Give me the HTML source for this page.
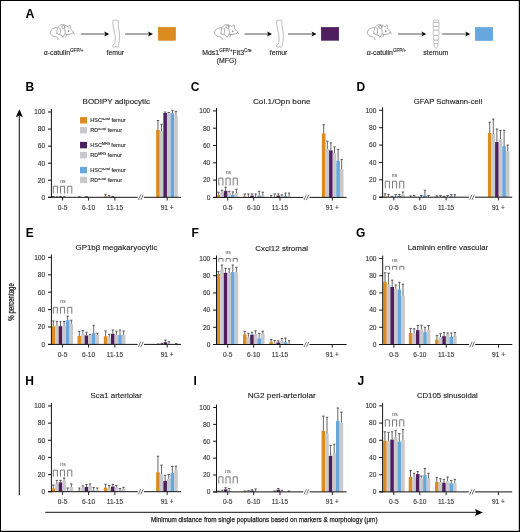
<!DOCTYPE html>
<html><head><meta charset="utf-8"><title>Figure</title>
<style>html,body{margin:0;padding:0;background:#fff;width:520px;height:532px;overflow:hidden}svg{display:block}.w{will-change:transform;width:520px;height:532px}text{font-family:"Liberation Sans",sans-serif}text.r{stroke:#2a2a2a;stroke-width:0.13px}</style>
</head><body>
<div class="w"><svg width="520" height="532" viewBox="0 0 520 532">
<rect x="0" y="0" width="520" height="532" fill="#fff"/>
<text x="25.4" y="17.7" font-size="12.4" font-weight="bold" fill="#000">A</text>
<g transform="translate(47.6,21.6)" fill="none" stroke="#6a6a6a" stroke-width="0.55" stroke-linecap="round" stroke-linejoin="round"><path d="M9.3 12C9.2 9 9.5 6 12 4C13.5 3 15 2.8 17 3.5C18.5 4 19.5 4.4 20.5 5C21 3.8 21.8 3.3 22.6 3.8C23 4.8 22.8 6 22.5 6.8C23.8 8 25 9.3 26 10.4C25.8 11.2 25 11.8 24 12.2C22.5 12.7 20.5 12.9 19.2 12.8"/><circle cx="15.8" cy="5.3" r="1.5"/><path d="M19.2 12.8C18.8 13.8 18.6 14.6 18.3 15.3M17.5 12.6C16.8 13.5 16.2 14.3 15.6 15.3"/><path d="M9.3 12C10.5 12.8 12 13.3 13.6 13.5C14.5 14 14.8 14.8 15 15.5"/><path d="M9.4 6C6.5 5.8 3.5 7.5 2.8 10.5C2.5 13 5 14.8 8 15.2C9.5 15.4 10.6 16.3 10.5 18"/><path d="M12.3 6.5C13.2 8.5 13.2 10.5 12.4 12.2M17 7C17.6 8.5 17.7 10.5 17.5 12.5"/><path d="M25.6 11L27 12.2"/></g>
<circle cx="68.7" cy="31.1" r="0.7" fill="#222"/>
<path transform="translate(112,20)" d="M1 0.5C2.5 0 5 0 6 0.3C6.3 2 6 4 6.4 7C6.9 10 7.6 13 7.6 17C7.6 20 7 23 6.3 25.5C6.4 26.3 5.8 27.3 5 27.3C4.3 27.3 4 26.8 3.8 26.3C3 27.2 1.5 27.3 0.8 26.7C0.3 26 1 25 2 24.3C2.8 23.5 3.3 22 3.3 19C3.3 16 2.5 13 1.8 9.5C1.3 6 0.5 3 1 0.5Z" fill="#fff" stroke="#888" stroke-width="0.55"/>
<line x1="80.9" y1="34" x2="105.2" y2="34" stroke="#7a7a7a" stroke-width="1.3"/>
<path d="M109.2 34L104.2 31.6L105.4 34L104.2 36.4Z" fill="#000"/>
<line x1="125.1" y1="34" x2="149" y2="34" stroke="#7a7a7a" stroke-width="1.3"/>
<path d="M153 34L148 31.6L149.2 34L148 36.4Z" fill="#000"/>
<rect x="158.2" y="27.3" width="17.4" height="13" fill="#DC8C1E" stroke="#D07E12" stroke-width="0.5"/>
<g transform="translate(211.7,21.6)" fill="none" stroke="#6a6a6a" stroke-width="0.55" stroke-linecap="round" stroke-linejoin="round"><path d="M9.3 12C9.2 9 9.5 6 12 4C13.5 3 15 2.8 17 3.5C18.5 4 19.5 4.4 20.5 5C21 3.8 21.8 3.3 22.6 3.8C23 4.8 22.8 6 22.5 6.8C23.8 8 25 9.3 26 10.4C25.8 11.2 25 11.8 24 12.2C22.5 12.7 20.5 12.9 19.2 12.8"/><circle cx="15.8" cy="5.3" r="1.5"/><path d="M19.2 12.8C18.8 13.8 18.6 14.6 18.3 15.3M17.5 12.6C16.8 13.5 16.2 14.3 15.6 15.3"/><path d="M9.3 12C10.5 12.8 12 13.3 13.6 13.5C14.5 14 14.8 14.8 15 15.5"/><path d="M9.4 6C6.5 5.8 3.5 7.5 2.8 10.5C2.5 13 5 14.8 8 15.2C9.5 15.4 10.6 16.3 10.5 18"/><path d="M12.3 6.5C13.2 8.5 13.2 10.5 12.4 12.2M17 7C17.6 8.5 17.7 10.5 17.5 12.5"/><path d="M25.6 11L27 12.2"/></g>
<circle cx="232.8" cy="31.1" r="0.7" fill="#222"/>
<line x1="244.6" y1="34" x2="268" y2="34" stroke="#7a7a7a" stroke-width="1.3"/>
<path d="M272 34L267 31.6L268.2 34L267 36.4Z" fill="#000"/>
<path transform="translate(275.8,20)" d="M1 0.5C2.5 0 5 0 6 0.3C6.3 2 6 4 6.4 7C6.9 10 7.6 13 7.6 17C7.6 20 7 23 6.3 25.5C6.4 26.3 5.8 27.3 5 27.3C4.3 27.3 4 26.8 3.8 26.3C3 27.2 1.5 27.3 0.8 26.7C0.3 26 1 25 2 24.3C2.8 23.5 3.3 22 3.3 19C3.3 16 2.5 13 1.8 9.5C1.3 6 0.5 3 1 0.5Z" fill="#fff" stroke="#888" stroke-width="0.55"/>
<line x1="288" y1="34" x2="312.5" y2="34" stroke="#7a7a7a" stroke-width="1.3"/>
<path d="M316.5 34L311.5 31.6L312.7 34L311.5 36.4Z" fill="#000"/>
<rect x="321.2" y="27.3" width="17.6" height="13" fill="#4F1E5E" stroke="#431552" stroke-width="0.5"/>
<g transform="translate(364.6,21.6)" fill="none" stroke="#6a6a6a" stroke-width="0.55" stroke-linecap="round" stroke-linejoin="round"><path d="M9.3 12C9.2 9 9.5 6 12 4C13.5 3 15 2.8 17 3.5C18.5 4 19.5 4.4 20.5 5C21 3.8 21.8 3.3 22.6 3.8C23 4.8 22.8 6 22.5 6.8C23.8 8 25 9.3 26 10.4C25.8 11.2 25 11.8 24 12.2C22.5 12.7 20.5 12.9 19.2 12.8"/><circle cx="15.8" cy="5.3" r="1.5"/><path d="M19.2 12.8C18.8 13.8 18.6 14.6 18.3 15.3M17.5 12.6C16.8 13.5 16.2 14.3 15.6 15.3"/><path d="M9.3 12C10.5 12.8 12 13.3 13.6 13.5C14.5 14 14.8 14.8 15 15.5"/><path d="M9.4 6C6.5 5.8 3.5 7.5 2.8 10.5C2.5 13 5 14.8 8 15.2C9.5 15.4 10.6 16.3 10.5 18"/><path d="M12.3 6.5C13.2 8.5 13.2 10.5 12.4 12.2M17 7C17.6 8.5 17.7 10.5 17.5 12.5"/><path d="M25.6 11L27 12.2"/></g>
<circle cx="385.7" cy="31.1" r="0.7" fill="#222"/>
<line x1="398" y1="34" x2="422.3" y2="34" stroke="#7a7a7a" stroke-width="1.3"/>
<path d="M426.3 34L421.3 31.6L422.5 34L421.3 36.4Z" fill="#000"/>
<g transform="translate(432.9,19.8)" fill="#fff" stroke="#858585" stroke-width="0.5">
<rect x="0.4" y="0.1" width="5.6" height="2.5" rx="1.2" ry="1.2"/>
<rect x="0.2" y="2.6" width="6" height="4" rx="1.2" ry="1.2"/>
<rect x="0.3" y="6.6" width="5.8" height="3.9" rx="1.2" ry="1.2"/>
<rect x="0.3" y="10.5" width="5.8" height="5.2" rx="1.4" ry="1.2"/>
<rect x="0.5" y="15.7" width="5.4" height="4.7" rx="1.4" ry="1.2"/>
<rect x="0.7" y="20.4" width="5" height="3.4" rx="1.3" ry="1.2"/>
<path d="M1.1 23.8C1 25.5 1.6 27.5 3.1 28.6C4.6 27.5 5.2 25.5 5.1 23.8Z"/>
</g>
<line x1="442.2" y1="34" x2="466.2" y2="34" stroke="#7a7a7a" stroke-width="1.3"/>
<path d="M470.2 34L465.2 31.6L466.4 34L465.2 36.4Z" fill="#000"/>
<rect x="475.2" y="27.3" width="17.6" height="13.3" fill="#66A8DE" stroke="#5a9ed6" stroke-width="0.5"/>
<text class="r" x="43.8" y="54.5" font-size="6.9" fill="#222">α-catulin<tspan font-size="4.6" dy="-2.6">GFP/+</tspan></text>
<text class="r" x="115.3" y="54.5" font-size="6.9" text-anchor="middle" fill="#222">femur</text>
<text class="r" x="202.3" y="54.5" font-size="6.9" fill="#222">Mds1<tspan font-size="4.6" dy="-2.6">GFP/+</tspan><tspan dy="2.6">Flt3</tspan><tspan font-size="4.6" dy="-2.6">Cre</tspan></text>
<text class="r" x="226.7" y="63" font-size="6.9" text-anchor="middle" fill="#222">(MFG)</text>
<text class="r" x="278.6" y="54.5" font-size="6.9" text-anchor="middle" fill="#222">femur</text>
<text class="r" x="366.7" y="54.5" font-size="6.9" fill="#222">α-catulin<tspan font-size="4.6" dy="-2.6">GFP/+</tspan></text>
<text class="r" x="435.8" y="54.5" font-size="6.9" text-anchor="middle" fill="#222">sternum</text>
<rect x="51.5" y="196.87" width="3.6" height="0.43" fill="#DC8C1E"/>
<line x1="53.3" y1="196.87" x2="53.3" y2="196.45" stroke="#4a4a4a" stroke-width="0.85"/>
<line x1="52.1" y1="196.45" x2="54.5" y2="196.45" stroke="#4a4a4a" stroke-width="0.9"/>
<line x1="56.9" y1="197.3" x2="56.9" y2="196.87" stroke="#4a4a4a" stroke-width="0.85"/>
<line x1="55.7" y1="196.87" x2="58.1" y2="196.87" stroke="#4a4a4a" stroke-width="0.9"/>
<rect x="58.7" y="196.87" width="3.6" height="0.43" fill="#4F1E5E"/>
<line x1="60.5" y1="196.87" x2="60.5" y2="196.45" stroke="#4a4a4a" stroke-width="0.85"/>
<line x1="59.3" y1="196.45" x2="61.7" y2="196.45" stroke="#4a4a4a" stroke-width="0.9"/>
<line x1="64.1" y1="197.3" x2="64.1" y2="196.87" stroke="#4a4a4a" stroke-width="0.85"/>
<line x1="62.9" y1="196.87" x2="65.3" y2="196.87" stroke="#4a4a4a" stroke-width="0.9"/>
<line x1="79.3" y1="197.3" x2="79.3" y2="196.87" stroke="#4a4a4a" stroke-width="0.85"/>
<line x1="78.1" y1="196.87" x2="80.5" y2="196.87" stroke="#4a4a4a" stroke-width="0.9"/>
<rect x="84.7" y="196.87" width="3.6" height="0.43" fill="#4F1E5E"/>
<line x1="86.5" y1="196.87" x2="86.5" y2="196.45" stroke="#4a4a4a" stroke-width="0.85"/>
<line x1="85.3" y1="196.45" x2="87.7" y2="196.45" stroke="#4a4a4a" stroke-width="0.9"/>
<rect x="103.8" y="196.45" width="3.6" height="0.85" fill="#DC8C1E"/>
<line x1="105.6" y1="196.45" x2="105.6" y2="194.31" stroke="#4a4a4a" stroke-width="0.85"/>
<line x1="104.4" y1="194.31" x2="106.8" y2="194.31" stroke="#4a4a4a" stroke-width="0.9"/>
<line x1="109.2" y1="197.3" x2="109.2" y2="195.59" stroke="#4a4a4a" stroke-width="0.85"/>
<line x1="108" y1="195.59" x2="110.4" y2="195.59" stroke="#4a4a4a" stroke-width="0.9"/>
<rect x="111" y="196.87" width="3.6" height="0.43" fill="#4F1E5E"/>
<line x1="112.8" y1="196.87" x2="112.8" y2="196.45" stroke="#4a4a4a" stroke-width="0.85"/>
<line x1="111.6" y1="196.45" x2="114" y2="196.45" stroke="#4a4a4a" stroke-width="0.9"/>
<rect x="156.15" y="129.91" width="3.6" height="67.39" fill="#DC8C1E"/>
<line x1="157.95" y1="129.91" x2="157.95" y2="120.53" stroke="#4a4a4a" stroke-width="0.85"/>
<line x1="156.75" y1="120.53" x2="159.15" y2="120.53" stroke="#4a4a4a" stroke-width="0.9"/>
<rect x="159.75" y="131.28" width="3.6" height="66.02" fill="#C9C8CD"/>
<line x1="161.55" y1="131.28" x2="161.55" y2="124.2" stroke="#4a4a4a" stroke-width="0.85"/>
<line x1="160.35" y1="124.2" x2="162.75" y2="124.2" stroke="#4a4a4a" stroke-width="0.9"/>
<rect x="163.35" y="113.02" width="3.6" height="84.28" fill="#4F1E5E"/>
<line x1="165.15" y1="113.02" x2="165.15" y2="112" stroke="#4a4a4a" stroke-width="0.85"/>
<line x1="163.95" y1="112" x2="166.35" y2="112" stroke="#4a4a4a" stroke-width="0.9"/>
<rect x="166.95" y="113.19" width="3.6" height="84.11" fill="#C9C8CD"/>
<line x1="168.75" y1="113.19" x2="168.75" y2="112.43" stroke="#4a4a4a" stroke-width="0.85"/>
<line x1="167.55" y1="112.43" x2="169.95" y2="112.43" stroke="#4a4a4a" stroke-width="0.9"/>
<rect x="170.55" y="113.19" width="3.6" height="84.11" fill="#66A8DE"/>
<line x1="172.35" y1="113.19" x2="172.35" y2="110.29" stroke="#4a4a4a" stroke-width="0.85"/>
<line x1="171.15" y1="110.29" x2="173.55" y2="110.29" stroke="#4a4a4a" stroke-width="0.9"/>
<rect x="174.15" y="115.24" width="3.6" height="82.06" fill="#C9C8CD"/>
<line x1="175.95" y1="115.24" x2="175.95" y2="111.32" stroke="#4a4a4a" stroke-width="0.85"/>
<line x1="174.75" y1="111.32" x2="177.15" y2="111.32" stroke="#4a4a4a" stroke-width="0.9"/>
<line x1="51.4" y1="109" x2="51.4" y2="197.8" stroke="#151515" stroke-width="1"/>
<line x1="48" y1="197.3" x2="51.4" y2="197.3" stroke="#1a1a1a" stroke-width="1.05"/>
<text class="r" x="45.2" y="199.65" font-size="6.6" text-anchor="end" fill="#444">0</text>
<line x1="48" y1="180.24" x2="51.4" y2="180.24" stroke="#1a1a1a" stroke-width="1.05"/>
<text class="r" x="45.2" y="182.59" font-size="6.6" text-anchor="end" fill="#444">20</text>
<line x1="48" y1="163.18" x2="51.4" y2="163.18" stroke="#1a1a1a" stroke-width="1.05"/>
<text class="r" x="45.2" y="165.53" font-size="6.6" text-anchor="end" fill="#444">40</text>
<line x1="48" y1="146.12" x2="51.4" y2="146.12" stroke="#1a1a1a" stroke-width="1.05"/>
<text class="r" x="45.2" y="148.47" font-size="6.6" text-anchor="end" fill="#444">60</text>
<line x1="48" y1="129.06" x2="51.4" y2="129.06" stroke="#1a1a1a" stroke-width="1.05"/>
<text class="r" x="45.2" y="131.41" font-size="6.6" text-anchor="end" fill="#444">80</text>
<line x1="48" y1="112" x2="51.4" y2="112" stroke="#1a1a1a" stroke-width="1.05"/>
<text class="r" x="45.2" y="114.35" font-size="6.6" text-anchor="end" fill="#444">100</text>
<line x1="48" y1="197.3" x2="137.7" y2="197.3" stroke="#151515" stroke-width="1"/>
<line x1="143.9" y1="197.3" x2="181" y2="197.3" stroke="#151515" stroke-width="1"/>
<line x1="138.4" y1="200" x2="140.8" y2="194.6" stroke="#555" stroke-width="0.8"/>
<line x1="140.8" y1="200" x2="143.2" y2="194.6" stroke="#555" stroke-width="0.8"/>
<line x1="62.6" y1="197.3" x2="62.6" y2="200.5" stroke="#222" stroke-width="1"/>
<text class="r" x="62.6" y="209.6" font-size="6.6" text-anchor="middle" fill="#444">0-5</text>
<line x1="88.6" y1="197.3" x2="88.6" y2="200.5" stroke="#222" stroke-width="1"/>
<text class="r" x="88.6" y="209.6" font-size="6.6" text-anchor="middle" fill="#444">6-10</text>
<line x1="114.9" y1="197.3" x2="114.9" y2="200.5" stroke="#222" stroke-width="1"/>
<text class="r" x="114.9" y="209.6" font-size="6.6" text-anchor="middle" fill="#444">11-15</text>
<line x1="167.2" y1="197.3" x2="167.2" y2="200.5" stroke="#222" stroke-width="1"/>
<text class="r" x="167.2" y="209.6" font-size="6.6" text-anchor="middle" fill="#444">91 +</text>
<path d="M53.3 193.5V186.2H57.4V193.5" fill="none" stroke="#7a7a7a" stroke-width="1"/>
<path d="M60.5 193.5V186.2H64.6V193.5" fill="none" stroke="#7a7a7a" stroke-width="1"/>
<path d="M67.7 193.5V186.2H71.8V193.5" fill="none" stroke="#7a7a7a" stroke-width="1"/>
<text x="62.8" y="182.5" font-size="5" text-anchor="middle" fill="#3a3a3a">ns</text>
<text class="r" x="82.6" y="103.8" font-size="8" fill="#222" textLength="67.4" lengthAdjust="spacingAndGlyphs">BODIPY adipocytic</text>
<text x="25.6" y="90.7" font-size="12" font-weight="bold" fill="#000">B</text>
<rect x="216.6" y="194.81" width="3.6" height="2.59" fill="#DC8C1E"/>
<line x1="218.4" y1="194.81" x2="218.4" y2="192.21" stroke="#4a4a4a" stroke-width="0.85"/>
<line x1="217.2" y1="192.21" x2="219.6" y2="192.21" stroke="#4a4a4a" stroke-width="0.9"/>
<rect x="220.2" y="192.82" width="3.6" height="4.58" fill="#C9C8CD"/>
<line x1="222" y1="192.82" x2="222" y2="190.22" stroke="#4a4a4a" stroke-width="0.85"/>
<line x1="220.8" y1="190.22" x2="223.2" y2="190.22" stroke="#4a4a4a" stroke-width="0.9"/>
<rect x="223.8" y="190.83" width="3.6" height="6.57" fill="#4F1E5E"/>
<line x1="225.6" y1="190.83" x2="225.6" y2="187.19" stroke="#4a4a4a" stroke-width="0.85"/>
<line x1="224.4" y1="187.19" x2="226.8" y2="187.19" stroke="#4a4a4a" stroke-width="0.9"/>
<rect x="227.4" y="192.82" width="3.6" height="4.58" fill="#C9C8CD"/>
<line x1="229.2" y1="192.82" x2="229.2" y2="191.34" stroke="#4a4a4a" stroke-width="0.85"/>
<line x1="228" y1="191.34" x2="230.4" y2="191.34" stroke="#4a4a4a" stroke-width="0.9"/>
<rect x="231" y="194.72" width="3.6" height="2.68" fill="#66A8DE"/>
<line x1="232.8" y1="194.72" x2="232.8" y2="191.86" stroke="#4a4a4a" stroke-width="0.85"/>
<line x1="231.6" y1="191.86" x2="234" y2="191.86" stroke="#4a4a4a" stroke-width="0.9"/>
<rect x="234.6" y="193.08" width="3.6" height="4.33" fill="#C9C8CD"/>
<line x1="236.4" y1="193.08" x2="236.4" y2="189.27" stroke="#4a4a4a" stroke-width="0.85"/>
<line x1="235.2" y1="189.27" x2="237.6" y2="189.27" stroke="#4a4a4a" stroke-width="0.9"/>
<rect x="243" y="196.53" width="3.6" height="0.86" fill="#DC8C1E"/>
<line x1="244.8" y1="196.53" x2="244.8" y2="193.94" stroke="#4a4a4a" stroke-width="0.85"/>
<line x1="243.6" y1="193.94" x2="246" y2="193.94" stroke="#4a4a4a" stroke-width="0.9"/>
<rect x="246.6" y="196.97" width="3.6" height="0.43" fill="#C9C8CD"/>
<line x1="248.4" y1="196.97" x2="248.4" y2="193.94" stroke="#4a4a4a" stroke-width="0.85"/>
<line x1="247.2" y1="193.94" x2="249.6" y2="193.94" stroke="#4a4a4a" stroke-width="0.9"/>
<rect x="250.2" y="195.67" width="3.6" height="1.73" fill="#4F1E5E"/>
<line x1="252" y1="195.67" x2="252" y2="193.94" stroke="#4a4a4a" stroke-width="0.85"/>
<line x1="250.8" y1="193.94" x2="253.2" y2="193.94" stroke="#4a4a4a" stroke-width="0.9"/>
<rect x="253.8" y="196.97" width="3.6" height="0.43" fill="#C9C8CD"/>
<line x1="255.6" y1="196.97" x2="255.6" y2="193.94" stroke="#4a4a4a" stroke-width="0.85"/>
<line x1="254.4" y1="193.94" x2="256.8" y2="193.94" stroke="#4a4a4a" stroke-width="0.9"/>
<rect x="257.4" y="195.67" width="3.6" height="1.73" fill="#66A8DE"/>
<line x1="259.2" y1="195.67" x2="259.2" y2="191.34" stroke="#4a4a4a" stroke-width="0.85"/>
<line x1="258" y1="191.34" x2="260.4" y2="191.34" stroke="#4a4a4a" stroke-width="0.9"/>
<rect x="261" y="195.24" width="3.6" height="2.16" fill="#C9C8CD"/>
<line x1="262.8" y1="195.24" x2="262.8" y2="192.21" stroke="#4a4a4a" stroke-width="0.85"/>
<line x1="261.6" y1="192.21" x2="264" y2="192.21" stroke="#4a4a4a" stroke-width="0.9"/>
<rect x="269.3" y="196.97" width="3.6" height="0.43" fill="#DC8C1E"/>
<line x1="271.1" y1="196.97" x2="271.1" y2="195.67" stroke="#4a4a4a" stroke-width="0.85"/>
<line x1="269.9" y1="195.67" x2="272.3" y2="195.67" stroke="#4a4a4a" stroke-width="0.9"/>
<rect x="272.9" y="196.97" width="3.6" height="0.43" fill="#C9C8CD"/>
<line x1="274.7" y1="196.97" x2="274.7" y2="193.94" stroke="#4a4a4a" stroke-width="0.85"/>
<line x1="273.5" y1="193.94" x2="275.9" y2="193.94" stroke="#4a4a4a" stroke-width="0.9"/>
<rect x="276.5" y="195.67" width="3.6" height="1.73" fill="#4F1E5E"/>
<line x1="278.3" y1="195.67" x2="278.3" y2="193.94" stroke="#4a4a4a" stroke-width="0.85"/>
<line x1="277.1" y1="193.94" x2="279.5" y2="193.94" stroke="#4a4a4a" stroke-width="0.9"/>
<rect x="280.1" y="196.97" width="3.6" height="0.43" fill="#C9C8CD"/>
<line x1="281.9" y1="196.97" x2="281.9" y2="194.81" stroke="#4a4a4a" stroke-width="0.85"/>
<line x1="280.7" y1="194.81" x2="283.1" y2="194.81" stroke="#4a4a4a" stroke-width="0.9"/>
<rect x="283.7" y="196.1" width="3.6" height="1.3" fill="#66A8DE"/>
<line x1="285.5" y1="196.1" x2="285.5" y2="193.08" stroke="#4a4a4a" stroke-width="0.85"/>
<line x1="284.3" y1="193.08" x2="286.7" y2="193.08" stroke="#4a4a4a" stroke-width="0.9"/>
<rect x="287.3" y="196.1" width="3.6" height="1.3" fill="#C9C8CD"/>
<line x1="289.1" y1="196.1" x2="289.1" y2="193.08" stroke="#4a4a4a" stroke-width="0.85"/>
<line x1="287.9" y1="193.08" x2="290.3" y2="193.08" stroke="#4a4a4a" stroke-width="0.9"/>
<rect x="321.9" y="133.3" width="3.6" height="64.1" fill="#DC8C1E"/>
<line x1="323.7" y1="133.3" x2="323.7" y2="124.74" stroke="#4a4a4a" stroke-width="0.85"/>
<line x1="322.5" y1="124.74" x2="324.9" y2="124.74" stroke="#4a4a4a" stroke-width="0.9"/>
<rect x="325.5" y="148.96" width="3.6" height="48.44" fill="#C9C8CD"/>
<line x1="327.3" y1="148.96" x2="327.3" y2="141.18" stroke="#4a4a4a" stroke-width="0.85"/>
<line x1="326.1" y1="141.18" x2="328.5" y2="141.18" stroke="#4a4a4a" stroke-width="0.9"/>
<rect x="329.1" y="150.43" width="3.6" height="46.97" fill="#4F1E5E"/>
<line x1="330.9" y1="150.43" x2="330.9" y2="142.91" stroke="#4a4a4a" stroke-width="0.85"/>
<line x1="329.7" y1="142.91" x2="332.1" y2="142.91" stroke="#4a4a4a" stroke-width="0.9"/>
<rect x="332.7" y="152.77" width="3.6" height="44.63" fill="#C9C8CD"/>
<line x1="334.5" y1="152.77" x2="334.5" y2="146.88" stroke="#4a4a4a" stroke-width="0.85"/>
<line x1="333.3" y1="146.88" x2="335.7" y2="146.88" stroke="#4a4a4a" stroke-width="0.9"/>
<rect x="336.3" y="160.81" width="3.6" height="36.59" fill="#66A8DE"/>
<line x1="338.1" y1="160.81" x2="338.1" y2="149.31" stroke="#4a4a4a" stroke-width="0.85"/>
<line x1="336.9" y1="149.31" x2="339.3" y2="149.31" stroke="#4a4a4a" stroke-width="0.9"/>
<rect x="339.9" y="169.2" width="3.6" height="28.2" fill="#C9C8CD"/>
<line x1="341.7" y1="169.2" x2="341.7" y2="159.34" stroke="#4a4a4a" stroke-width="0.85"/>
<line x1="340.5" y1="159.34" x2="342.9" y2="159.34" stroke="#4a4a4a" stroke-width="0.9"/>
<line x1="216.5" y1="107.9" x2="216.5" y2="197.9" stroke="#151515" stroke-width="1"/>
<line x1="213.1" y1="197.4" x2="216.5" y2="197.4" stroke="#1a1a1a" stroke-width="1.05"/>
<text class="r" x="210.3" y="199.75" font-size="6.6" text-anchor="end" fill="#444">0</text>
<line x1="213.1" y1="180.1" x2="216.5" y2="180.1" stroke="#1a1a1a" stroke-width="1.05"/>
<text class="r" x="210.3" y="182.45" font-size="6.6" text-anchor="end" fill="#444">20</text>
<line x1="213.1" y1="162.8" x2="216.5" y2="162.8" stroke="#1a1a1a" stroke-width="1.05"/>
<text class="r" x="210.3" y="165.15" font-size="6.6" text-anchor="end" fill="#444">40</text>
<line x1="213.1" y1="145.5" x2="216.5" y2="145.5" stroke="#1a1a1a" stroke-width="1.05"/>
<text class="r" x="210.3" y="147.85" font-size="6.6" text-anchor="end" fill="#444">60</text>
<line x1="213.1" y1="128.2" x2="216.5" y2="128.2" stroke="#1a1a1a" stroke-width="1.05"/>
<text class="r" x="210.3" y="130.55" font-size="6.6" text-anchor="end" fill="#444">80</text>
<line x1="213.1" y1="110.9" x2="216.5" y2="110.9" stroke="#1a1a1a" stroke-width="1.05"/>
<text class="r" x="210.3" y="113.25" font-size="6.6" text-anchor="end" fill="#444">100</text>
<line x1="213.1" y1="197.4" x2="303.3" y2="197.4" stroke="#151515" stroke-width="1"/>
<line x1="309.5" y1="197.4" x2="346.6" y2="197.4" stroke="#151515" stroke-width="1"/>
<line x1="304" y1="200.1" x2="306.4" y2="194.7" stroke="#555" stroke-width="0.8"/>
<line x1="306.4" y1="200.1" x2="308.8" y2="194.7" stroke="#555" stroke-width="0.8"/>
<line x1="227.7" y1="197.4" x2="227.7" y2="200.6" stroke="#222" stroke-width="1"/>
<text class="r" x="227.7" y="209.7" font-size="6.6" text-anchor="middle" fill="#444">0-5</text>
<line x1="253.7" y1="197.4" x2="253.7" y2="200.6" stroke="#222" stroke-width="1"/>
<text class="r" x="253.7" y="209.7" font-size="6.6" text-anchor="middle" fill="#444">6-10</text>
<line x1="280" y1="197.4" x2="280" y2="200.6" stroke="#222" stroke-width="1"/>
<text class="r" x="280" y="209.7" font-size="6.6" text-anchor="middle" fill="#444">11-15</text>
<line x1="332.3" y1="197.4" x2="332.3" y2="200.6" stroke="#222" stroke-width="1"/>
<text class="r" x="332.3" y="209.7" font-size="6.6" text-anchor="middle" fill="#444">91 +</text>
<path d="M218.8 185.5V178.1H222.9V185.5" fill="none" stroke="#7a7a7a" stroke-width="1"/>
<path d="M226 185.5V178.1H230.1V185.5" fill="none" stroke="#7a7a7a" stroke-width="1"/>
<path d="M233.2 185.5V178.1H237.3V185.5" fill="none" stroke="#7a7a7a" stroke-width="1"/>
<text x="228.4" y="174.3" font-size="5" text-anchor="middle" fill="#3a3a3a">ns</text>
<text class="r" x="252.9" y="103.6" font-size="8" fill="#222" textLength="57.8" lengthAdjust="spacingAndGlyphs">Col.1/Opn bone</text>
<text x="190.8" y="90.7" font-size="12" font-weight="bold" fill="#000">C</text>
<rect x="383.1" y="196.33" width="3.6" height="0.87" fill="#DC8C1E"/>
<line x1="384.9" y1="196.33" x2="384.9" y2="193.72" stroke="#4a4a4a" stroke-width="0.85"/>
<line x1="383.7" y1="193.72" x2="386.1" y2="193.72" stroke="#4a4a4a" stroke-width="0.9"/>
<line x1="388.5" y1="197.2" x2="388.5" y2="194.59" stroke="#4a4a4a" stroke-width="0.85"/>
<line x1="387.3" y1="194.59" x2="389.7" y2="194.59" stroke="#4a4a4a" stroke-width="0.9"/>
<line x1="392.1" y1="197.2" x2="392.1" y2="196.33" stroke="#4a4a4a" stroke-width="0.85"/>
<line x1="390.9" y1="196.33" x2="393.3" y2="196.33" stroke="#4a4a4a" stroke-width="0.9"/>
<line x1="395.7" y1="197.2" x2="395.7" y2="194.59" stroke="#4a4a4a" stroke-width="0.85"/>
<line x1="394.5" y1="194.59" x2="396.9" y2="194.59" stroke="#4a4a4a" stroke-width="0.9"/>
<rect x="397.5" y="195.9" width="3.6" height="1.3" fill="#66A8DE"/>
<line x1="399.3" y1="195.9" x2="399.3" y2="194.59" stroke="#4a4a4a" stroke-width="0.85"/>
<line x1="398.1" y1="194.59" x2="400.5" y2="194.59" stroke="#4a4a4a" stroke-width="0.9"/>
<rect x="401.1" y="194.59" width="3.6" height="2.61" fill="#C9C8CD"/>
<line x1="402.9" y1="194.59" x2="402.9" y2="191.99" stroke="#4a4a4a" stroke-width="0.85"/>
<line x1="401.7" y1="191.99" x2="404.1" y2="191.99" stroke="#4a4a4a" stroke-width="0.9"/>
<line x1="410.5" y1="197.2" x2="410.5" y2="195.9" stroke="#4a4a4a" stroke-width="0.85"/>
<line x1="409.3" y1="195.9" x2="411.7" y2="195.9" stroke="#4a4a4a" stroke-width="0.9"/>
<line x1="414.1" y1="197.2" x2="414.1" y2="195.46" stroke="#4a4a4a" stroke-width="0.85"/>
<line x1="412.9" y1="195.46" x2="415.3" y2="195.46" stroke="#4a4a4a" stroke-width="0.9"/>
<line x1="421.3" y1="197.2" x2="421.3" y2="195.46" stroke="#4a4a4a" stroke-width="0.85"/>
<line x1="420.1" y1="195.46" x2="422.5" y2="195.46" stroke="#4a4a4a" stroke-width="0.9"/>
<rect x="423.1" y="195.46" width="3.6" height="1.74" fill="#66A8DE"/>
<line x1="424.9" y1="195.46" x2="424.9" y2="190.25" stroke="#4a4a4a" stroke-width="0.85"/>
<line x1="423.7" y1="190.25" x2="426.1" y2="190.25" stroke="#4a4a4a" stroke-width="0.9"/>
<line x1="428.5" y1="197.2" x2="428.5" y2="195.46" stroke="#4a4a4a" stroke-width="0.85"/>
<line x1="427.3" y1="195.46" x2="429.7" y2="195.46" stroke="#4a4a4a" stroke-width="0.9"/>
<rect x="435" y="196.77" width="3.6" height="0.43" fill="#DC8C1E"/>
<line x1="436.8" y1="196.77" x2="436.8" y2="195.9" stroke="#4a4a4a" stroke-width="0.85"/>
<line x1="435.6" y1="195.9" x2="438" y2="195.9" stroke="#4a4a4a" stroke-width="0.9"/>
<line x1="440.4" y1="197.2" x2="440.4" y2="195.46" stroke="#4a4a4a" stroke-width="0.85"/>
<line x1="439.2" y1="195.46" x2="441.6" y2="195.46" stroke="#4a4a4a" stroke-width="0.9"/>
<line x1="444" y1="197.2" x2="444" y2="196.33" stroke="#4a4a4a" stroke-width="0.85"/>
<line x1="442.8" y1="196.33" x2="445.2" y2="196.33" stroke="#4a4a4a" stroke-width="0.9"/>
<line x1="447.6" y1="197.2" x2="447.6" y2="195.46" stroke="#4a4a4a" stroke-width="0.85"/>
<line x1="446.4" y1="195.46" x2="448.8" y2="195.46" stroke="#4a4a4a" stroke-width="0.9"/>
<rect x="449.4" y="196.33" width="3.6" height="0.87" fill="#66A8DE"/>
<line x1="451.2" y1="196.33" x2="451.2" y2="194.59" stroke="#4a4a4a" stroke-width="0.85"/>
<line x1="450" y1="194.59" x2="452.4" y2="194.59" stroke="#4a4a4a" stroke-width="0.9"/>
<line x1="454.8" y1="197.2" x2="454.8" y2="194.59" stroke="#4a4a4a" stroke-width="0.85"/>
<line x1="453.6" y1="194.59" x2="456" y2="194.59" stroke="#4a4a4a" stroke-width="0.9"/>
<rect x="487.9" y="132.89" width="3.6" height="64.31" fill="#DC8C1E"/>
<line x1="489.7" y1="132.89" x2="489.7" y2="122.21" stroke="#4a4a4a" stroke-width="0.85"/>
<line x1="488.5" y1="122.21" x2="490.9" y2="122.21" stroke="#4a4a4a" stroke-width="0.9"/>
<rect x="491.5" y="134.11" width="3.6" height="63.09" fill="#C9C8CD"/>
<line x1="493.3" y1="134.11" x2="493.3" y2="118.99" stroke="#4a4a4a" stroke-width="0.85"/>
<line x1="492.1" y1="118.99" x2="494.5" y2="118.99" stroke="#4a4a4a" stroke-width="0.9"/>
<rect x="495.1" y="142.11" width="3.6" height="55.09" fill="#4F1E5E"/>
<line x1="496.9" y1="142.11" x2="496.9" y2="128.98" stroke="#4a4a4a" stroke-width="0.85"/>
<line x1="495.7" y1="128.98" x2="498.1" y2="128.98" stroke="#4a4a4a" stroke-width="0.9"/>
<rect x="498.7" y="138.98" width="3.6" height="58.22" fill="#C9C8CD"/>
<line x1="500.5" y1="138.98" x2="500.5" y2="130.29" stroke="#4a4a4a" stroke-width="0.85"/>
<line x1="499.3" y1="130.29" x2="501.7" y2="130.29" stroke="#4a4a4a" stroke-width="0.9"/>
<rect x="502.3" y="146.1" width="3.6" height="51.1" fill="#66A8DE"/>
<line x1="504.1" y1="146.1" x2="504.1" y2="130.29" stroke="#4a4a4a" stroke-width="0.85"/>
<line x1="502.9" y1="130.29" x2="505.3" y2="130.29" stroke="#4a4a4a" stroke-width="0.9"/>
<rect x="505.9" y="151.4" width="3.6" height="45.8" fill="#C9C8CD"/>
<line x1="507.7" y1="151.4" x2="507.7" y2="145.06" stroke="#4a4a4a" stroke-width="0.85"/>
<line x1="506.5" y1="145.06" x2="508.9" y2="145.06" stroke="#4a4a4a" stroke-width="0.9"/>
<line x1="382.6" y1="107.3" x2="382.6" y2="197.7" stroke="#151515" stroke-width="1"/>
<line x1="379.2" y1="197.2" x2="382.6" y2="197.2" stroke="#1a1a1a" stroke-width="1.05"/>
<text class="r" x="376.4" y="199.55" font-size="6.6" text-anchor="end" fill="#444">0</text>
<line x1="379.2" y1="179.82" x2="382.6" y2="179.82" stroke="#1a1a1a" stroke-width="1.05"/>
<text class="r" x="376.4" y="182.17" font-size="6.6" text-anchor="end" fill="#444">20</text>
<line x1="379.2" y1="162.44" x2="382.6" y2="162.44" stroke="#1a1a1a" stroke-width="1.05"/>
<text class="r" x="376.4" y="164.79" font-size="6.6" text-anchor="end" fill="#444">40</text>
<line x1="379.2" y1="145.06" x2="382.6" y2="145.06" stroke="#1a1a1a" stroke-width="1.05"/>
<text class="r" x="376.4" y="147.41" font-size="6.6" text-anchor="end" fill="#444">60</text>
<line x1="379.2" y1="127.68" x2="382.6" y2="127.68" stroke="#1a1a1a" stroke-width="1.05"/>
<text class="r" x="376.4" y="130.03" font-size="6.6" text-anchor="end" fill="#444">80</text>
<line x1="379.2" y1="110.3" x2="382.6" y2="110.3" stroke="#1a1a1a" stroke-width="1.05"/>
<text class="r" x="376.4" y="112.65" font-size="6.6" text-anchor="end" fill="#444">100</text>
<line x1="379.2" y1="197.2" x2="468.9" y2="197.2" stroke="#151515" stroke-width="1"/>
<line x1="475.1" y1="197.2" x2="512.2" y2="197.2" stroke="#151515" stroke-width="1"/>
<line x1="469.6" y1="199.9" x2="472" y2="194.5" stroke="#555" stroke-width="0.8"/>
<line x1="472" y1="199.9" x2="474.4" y2="194.5" stroke="#555" stroke-width="0.8"/>
<line x1="393.8" y1="197.2" x2="393.8" y2="200.4" stroke="#222" stroke-width="1"/>
<text class="r" x="393.8" y="209.5" font-size="6.6" text-anchor="middle" fill="#444">0-5</text>
<line x1="419.8" y1="197.2" x2="419.8" y2="200.4" stroke="#222" stroke-width="1"/>
<text class="r" x="419.8" y="209.5" font-size="6.6" text-anchor="middle" fill="#444">6-10</text>
<line x1="446.1" y1="197.2" x2="446.1" y2="200.4" stroke="#222" stroke-width="1"/>
<text class="r" x="446.1" y="209.5" font-size="6.6" text-anchor="middle" fill="#444">11-15</text>
<line x1="498.4" y1="197.2" x2="498.4" y2="200.4" stroke="#222" stroke-width="1"/>
<text class="r" x="498.4" y="209.5" font-size="6.6" text-anchor="middle" fill="#444">91 +</text>
<path d="M385.3 188.4V181.2H389.4V188.4" fill="none" stroke="#7a7a7a" stroke-width="1"/>
<path d="M392.5 188.4V181.2H396.6V188.4" fill="none" stroke="#7a7a7a" stroke-width="1"/>
<path d="M399.7 188.4V181.2H403.8V188.4" fill="none" stroke="#7a7a7a" stroke-width="1"/>
<text x="394.5" y="177.3" font-size="5" text-anchor="middle" fill="#3a3a3a">ns</text>
<text class="r" x="413.8" y="104" font-size="8" fill="#222" textLength="68.4" lengthAdjust="spacingAndGlyphs">GFAP Schwann-cell</text>
<text x="356.4" y="90.9" font-size="12" font-weight="bold" fill="#000">D</text>
<rect x="51.5" y="326.22" width="3.6" height="18.18" fill="#DC8C1E"/>
<line x1="53.3" y1="326.22" x2="53.3" y2="320.91" stroke="#4a4a4a" stroke-width="0.85"/>
<line x1="52.1" y1="320.91" x2="54.5" y2="320.91" stroke="#4a4a4a" stroke-width="0.9"/>
<rect x="55.1" y="325.78" width="3.6" height="18.62" fill="#C9C8CD"/>
<line x1="56.9" y1="325.78" x2="56.9" y2="321.34" stroke="#4a4a4a" stroke-width="0.85"/>
<line x1="55.7" y1="321.34" x2="58.1" y2="321.34" stroke="#4a4a4a" stroke-width="0.9"/>
<rect x="58.7" y="326.13" width="3.6" height="18.27" fill="#4F1E5E"/>
<line x1="60.5" y1="326.13" x2="60.5" y2="321.78" stroke="#4a4a4a" stroke-width="0.85"/>
<line x1="59.3" y1="321.78" x2="61.7" y2="321.78" stroke="#4a4a4a" stroke-width="0.9"/>
<rect x="62.3" y="325.61" width="3.6" height="18.79" fill="#C9C8CD"/>
<line x1="64.1" y1="325.61" x2="64.1" y2="321.52" stroke="#4a4a4a" stroke-width="0.85"/>
<line x1="62.9" y1="321.52" x2="65.3" y2="321.52" stroke="#4a4a4a" stroke-width="0.9"/>
<rect x="65.9" y="320.21" width="3.6" height="24.19" fill="#66A8DE"/>
<line x1="67.7" y1="320.21" x2="67.7" y2="316.21" stroke="#4a4a4a" stroke-width="0.85"/>
<line x1="66.5" y1="316.21" x2="68.9" y2="316.21" stroke="#4a4a4a" stroke-width="0.9"/>
<rect x="69.5" y="324.04" width="3.6" height="20.36" fill="#C9C8CD"/>
<line x1="71.3" y1="324.04" x2="71.3" y2="320.21" stroke="#4a4a4a" stroke-width="0.85"/>
<line x1="70.1" y1="320.21" x2="72.5" y2="320.21" stroke="#4a4a4a" stroke-width="0.9"/>
<rect x="77.5" y="335.96" width="3.6" height="8.44" fill="#DC8C1E"/>
<line x1="79.3" y1="335.96" x2="79.3" y2="331.35" stroke="#4a4a4a" stroke-width="0.85"/>
<line x1="78.1" y1="331.35" x2="80.5" y2="331.35" stroke="#4a4a4a" stroke-width="0.9"/>
<rect x="81.1" y="333.7" width="3.6" height="10.7" fill="#C9C8CD"/>
<line x1="82.9" y1="333.7" x2="82.9" y2="330.48" stroke="#4a4a4a" stroke-width="0.85"/>
<line x1="81.7" y1="330.48" x2="84.1" y2="330.48" stroke="#4a4a4a" stroke-width="0.9"/>
<rect x="84.7" y="335.44" width="3.6" height="8.96" fill="#4F1E5E"/>
<line x1="86.5" y1="335.44" x2="86.5" y2="332.22" stroke="#4a4a4a" stroke-width="0.85"/>
<line x1="85.3" y1="332.22" x2="87.7" y2="332.22" stroke="#4a4a4a" stroke-width="0.9"/>
<rect x="88.3" y="335.09" width="3.6" height="9.31" fill="#C9C8CD"/>
<line x1="90.1" y1="335.09" x2="90.1" y2="334.31" stroke="#4a4a4a" stroke-width="0.85"/>
<line x1="88.9" y1="334.31" x2="91.3" y2="334.31" stroke="#4a4a4a" stroke-width="0.9"/>
<rect x="91.9" y="333.09" width="3.6" height="11.31" fill="#66A8DE"/>
<line x1="93.7" y1="333.09" x2="93.7" y2="325.26" stroke="#4a4a4a" stroke-width="0.85"/>
<line x1="92.5" y1="325.26" x2="94.9" y2="325.26" stroke="#4a4a4a" stroke-width="0.9"/>
<rect x="95.5" y="335.09" width="3.6" height="9.31" fill="#C9C8CD"/>
<line x1="97.3" y1="335.09" x2="97.3" y2="333.26" stroke="#4a4a4a" stroke-width="0.85"/>
<line x1="96.1" y1="333.26" x2="98.5" y2="333.26" stroke="#4a4a4a" stroke-width="0.9"/>
<rect x="103.8" y="336.22" width="3.6" height="8.18" fill="#DC8C1E"/>
<line x1="105.6" y1="336.22" x2="105.6" y2="330.83" stroke="#4a4a4a" stroke-width="0.85"/>
<line x1="104.4" y1="330.83" x2="106.8" y2="330.83" stroke="#4a4a4a" stroke-width="0.9"/>
<rect x="107.4" y="336.57" width="3.6" height="7.83" fill="#C9C8CD"/>
<line x1="109.2" y1="336.57" x2="109.2" y2="334.31" stroke="#4a4a4a" stroke-width="0.85"/>
<line x1="108" y1="334.31" x2="110.4" y2="334.31" stroke="#4a4a4a" stroke-width="0.9"/>
<rect x="111" y="333.79" width="3.6" height="10.61" fill="#4F1E5E"/>
<line x1="112.8" y1="333.79" x2="112.8" y2="329.96" stroke="#4a4a4a" stroke-width="0.85"/>
<line x1="111.6" y1="329.96" x2="114" y2="329.96" stroke="#4a4a4a" stroke-width="0.9"/>
<rect x="114.6" y="334.92" width="3.6" height="9.48" fill="#C9C8CD"/>
<line x1="116.4" y1="334.92" x2="116.4" y2="331.18" stroke="#4a4a4a" stroke-width="0.85"/>
<line x1="115.2" y1="331.18" x2="117.6" y2="331.18" stroke="#4a4a4a" stroke-width="0.9"/>
<rect x="118.2" y="334.92" width="3.6" height="9.48" fill="#66A8DE"/>
<line x1="120" y1="334.92" x2="120" y2="329.96" stroke="#4a4a4a" stroke-width="0.85"/>
<line x1="118.8" y1="329.96" x2="121.2" y2="329.96" stroke="#4a4a4a" stroke-width="0.9"/>
<rect x="121.8" y="334.66" width="3.6" height="9.74" fill="#C9C8CD"/>
<line x1="123.6" y1="334.66" x2="123.6" y2="331" stroke="#4a4a4a" stroke-width="0.85"/>
<line x1="122.4" y1="331" x2="124.8" y2="331" stroke="#4a4a4a" stroke-width="0.9"/>
<line x1="158.2" y1="344.4" x2="158.2" y2="343.96" stroke="#4a4a4a" stroke-width="0.85"/>
<line x1="157" y1="343.96" x2="159.4" y2="343.96" stroke="#4a4a4a" stroke-width="0.9"/>
<line x1="161.8" y1="344.4" x2="161.8" y2="343.53" stroke="#4a4a4a" stroke-width="0.85"/>
<line x1="160.6" y1="343.53" x2="163" y2="343.53" stroke="#4a4a4a" stroke-width="0.9"/>
<rect x="163.6" y="342.22" width="3.6" height="2.17" fill="#4F1E5E"/>
<line x1="165.4" y1="342.22" x2="165.4" y2="340.05" stroke="#4a4a4a" stroke-width="0.85"/>
<line x1="164.2" y1="340.05" x2="166.6" y2="340.05" stroke="#4a4a4a" stroke-width="0.9"/>
<rect x="167.2" y="343.53" width="3.6" height="0.87" fill="#C9C8CD"/>
<line x1="169" y1="343.53" x2="169" y2="341.79" stroke="#4a4a4a" stroke-width="0.85"/>
<line x1="167.8" y1="341.79" x2="170.2" y2="341.79" stroke="#4a4a4a" stroke-width="0.9"/>
<rect x="174.4" y="343.96" width="3.6" height="0.43" fill="#C9C8CD"/>
<line x1="176.2" y1="343.96" x2="176.2" y2="343.53" stroke="#4a4a4a" stroke-width="0.85"/>
<line x1="175" y1="343.53" x2="177.4" y2="343.53" stroke="#4a4a4a" stroke-width="0.9"/>
<line x1="51.4" y1="254.4" x2="51.4" y2="344.9" stroke="#151515" stroke-width="1"/>
<line x1="48" y1="344.4" x2="51.4" y2="344.4" stroke="#1a1a1a" stroke-width="1.05"/>
<text class="r" x="45.2" y="346.75" font-size="6.6" text-anchor="end" fill="#444">0</text>
<line x1="48" y1="327" x2="51.4" y2="327" stroke="#1a1a1a" stroke-width="1.05"/>
<text class="r" x="45.2" y="329.35" font-size="6.6" text-anchor="end" fill="#444">20</text>
<line x1="48" y1="309.6" x2="51.4" y2="309.6" stroke="#1a1a1a" stroke-width="1.05"/>
<text class="r" x="45.2" y="311.95" font-size="6.6" text-anchor="end" fill="#444">40</text>
<line x1="48" y1="292.2" x2="51.4" y2="292.2" stroke="#1a1a1a" stroke-width="1.05"/>
<text class="r" x="45.2" y="294.55" font-size="6.6" text-anchor="end" fill="#444">60</text>
<line x1="48" y1="274.8" x2="51.4" y2="274.8" stroke="#1a1a1a" stroke-width="1.05"/>
<text class="r" x="45.2" y="277.15" font-size="6.6" text-anchor="end" fill="#444">80</text>
<line x1="48" y1="257.4" x2="51.4" y2="257.4" stroke="#1a1a1a" stroke-width="1.05"/>
<text class="r" x="45.2" y="259.75" font-size="6.6" text-anchor="end" fill="#444">100</text>
<line x1="48" y1="344.4" x2="137.7" y2="344.4" stroke="#151515" stroke-width="1"/>
<line x1="143.9" y1="344.4" x2="181" y2="344.4" stroke="#151515" stroke-width="1"/>
<line x1="138.4" y1="347.1" x2="140.8" y2="341.7" stroke="#555" stroke-width="0.8"/>
<line x1="140.8" y1="347.1" x2="143.2" y2="341.7" stroke="#555" stroke-width="0.8"/>
<line x1="62.6" y1="344.4" x2="62.6" y2="347.6" stroke="#222" stroke-width="1"/>
<text class="r" x="62.6" y="356.7" font-size="6.6" text-anchor="middle" fill="#444">0-5</text>
<line x1="88.6" y1="344.4" x2="88.6" y2="347.6" stroke="#222" stroke-width="1"/>
<text class="r" x="88.6" y="356.7" font-size="6.6" text-anchor="middle" fill="#444">6-10</text>
<line x1="114.9" y1="344.4" x2="114.9" y2="347.6" stroke="#222" stroke-width="1"/>
<text class="r" x="114.9" y="356.7" font-size="6.6" text-anchor="middle" fill="#444">11-15</text>
<line x1="167.2" y1="344.4" x2="167.2" y2="347.6" stroke="#222" stroke-width="1"/>
<text class="r" x="167.2" y="356.7" font-size="6.6" text-anchor="middle" fill="#444">91 +</text>
<path d="M53.3 313.7V307.3H57.4V313.7" fill="none" stroke="#7a7a7a" stroke-width="1"/>
<path d="M60.5 313.7V307.3H64.6V313.7" fill="none" stroke="#7a7a7a" stroke-width="1"/>
<path d="M67.7 313.7V307.3H71.8V313.7" fill="none" stroke="#7a7a7a" stroke-width="1"/>
<text x="63" y="302.8" font-size="5" text-anchor="middle" fill="#3a3a3a">ns</text>
<text class="r" x="75.5" y="250.4" font-size="8" fill="#222" textLength="81.9" lengthAdjust="spacingAndGlyphs">GP1bβ megakaryocytic</text>
<text x="25.8" y="237.4" font-size="12" font-weight="bold" fill="#000">E</text>
<rect x="216.6" y="273.98" width="3.6" height="70.52" fill="#DC8C1E"/>
<line x1="218.4" y1="273.98" x2="218.4" y2="271.4" stroke="#4a4a4a" stroke-width="0.85"/>
<line x1="217.2" y1="271.4" x2="219.6" y2="271.4" stroke="#4a4a4a" stroke-width="0.9"/>
<rect x="220.2" y="270.02" width="3.6" height="74.48" fill="#C9C8CD"/>
<line x1="222" y1="270.02" x2="222" y2="265.04" stroke="#4a4a4a" stroke-width="0.85"/>
<line x1="220.8" y1="265.04" x2="223.2" y2="265.04" stroke="#4a4a4a" stroke-width="0.9"/>
<rect x="223.8" y="272.86" width="3.6" height="71.64" fill="#4F1E5E"/>
<line x1="225.6" y1="272.86" x2="225.6" y2="268.3" stroke="#4a4a4a" stroke-width="0.85"/>
<line x1="224.4" y1="268.3" x2="226.8" y2="268.3" stroke="#4a4a4a" stroke-width="0.9"/>
<rect x="227.4" y="273.55" width="3.6" height="70.95" fill="#C9C8CD"/>
<line x1="229.2" y1="273.55" x2="229.2" y2="268.82" stroke="#4a4a4a" stroke-width="0.85"/>
<line x1="228" y1="268.82" x2="230.4" y2="268.82" stroke="#4a4a4a" stroke-width="0.9"/>
<rect x="231" y="272.09" width="3.6" height="72.41" fill="#66A8DE"/>
<line x1="232.8" y1="272.09" x2="232.8" y2="265.04" stroke="#4a4a4a" stroke-width="0.85"/>
<line x1="231.6" y1="265.04" x2="234" y2="265.04" stroke="#4a4a4a" stroke-width="0.9"/>
<rect x="234.6" y="272.26" width="3.6" height="72.24" fill="#C9C8CD"/>
<line x1="236.4" y1="272.26" x2="236.4" y2="267.36" stroke="#4a4a4a" stroke-width="0.85"/>
<line x1="235.2" y1="267.36" x2="237.6" y2="267.36" stroke="#4a4a4a" stroke-width="0.9"/>
<rect x="243" y="334.35" width="3.6" height="10.15" fill="#DC8C1E"/>
<line x1="244.8" y1="334.35" x2="244.8" y2="331.6" stroke="#4a4a4a" stroke-width="0.85"/>
<line x1="243.6" y1="331.6" x2="246" y2="331.6" stroke="#4a4a4a" stroke-width="0.9"/>
<rect x="246.6" y="336.59" width="3.6" height="7.91" fill="#C9C8CD"/>
<line x1="248.4" y1="336.59" x2="248.4" y2="333.32" stroke="#4a4a4a" stroke-width="0.85"/>
<line x1="247.2" y1="333.32" x2="249.6" y2="333.32" stroke="#4a4a4a" stroke-width="0.9"/>
<rect x="250.2" y="334.7" width="3.6" height="9.8" fill="#4F1E5E"/>
<line x1="252" y1="334.7" x2="252" y2="332.2" stroke="#4a4a4a" stroke-width="0.85"/>
<line x1="250.8" y1="332.2" x2="253.2" y2="332.2" stroke="#4a4a4a" stroke-width="0.9"/>
<rect x="253.8" y="333.84" width="3.6" height="10.66" fill="#C9C8CD"/>
<line x1="255.6" y1="333.84" x2="255.6" y2="330.74" stroke="#4a4a4a" stroke-width="0.85"/>
<line x1="254.4" y1="330.74" x2="256.8" y2="330.74" stroke="#4a4a4a" stroke-width="0.9"/>
<rect x="257.4" y="338.48" width="3.6" height="6.02" fill="#66A8DE"/>
<line x1="259.2" y1="338.48" x2="259.2" y2="333.32" stroke="#4a4a4a" stroke-width="0.85"/>
<line x1="258" y1="333.32" x2="260.4" y2="333.32" stroke="#4a4a4a" stroke-width="0.9"/>
<rect x="261" y="333.75" width="3.6" height="10.75" fill="#C9C8CD"/>
<line x1="262.8" y1="333.75" x2="262.8" y2="331.34" stroke="#4a4a4a" stroke-width="0.85"/>
<line x1="261.6" y1="331.34" x2="264" y2="331.34" stroke="#4a4a4a" stroke-width="0.9"/>
<rect x="269.3" y="341.92" width="3.6" height="2.58" fill="#DC8C1E"/>
<line x1="271.1" y1="341.92" x2="271.1" y2="339.6" stroke="#4a4a4a" stroke-width="0.85"/>
<line x1="269.9" y1="339.6" x2="272.3" y2="339.6" stroke="#4a4a4a" stroke-width="0.9"/>
<rect x="272.9" y="342.78" width="3.6" height="1.72" fill="#C9C8CD"/>
<line x1="274.7" y1="342.78" x2="274.7" y2="340.46" stroke="#4a4a4a" stroke-width="0.85"/>
<line x1="273.5" y1="340.46" x2="275.9" y2="340.46" stroke="#4a4a4a" stroke-width="0.9"/>
<rect x="276.5" y="342.44" width="3.6" height="2.06" fill="#4F1E5E"/>
<line x1="278.3" y1="342.44" x2="278.3" y2="340.8" stroke="#4a4a4a" stroke-width="0.85"/>
<line x1="277.1" y1="340.8" x2="279.5" y2="340.8" stroke="#4a4a4a" stroke-width="0.9"/>
<rect x="280.1" y="341.06" width="3.6" height="3.44" fill="#C9C8CD"/>
<line x1="281.9" y1="341.06" x2="281.9" y2="338.48" stroke="#4a4a4a" stroke-width="0.85"/>
<line x1="280.7" y1="338.48" x2="283.1" y2="338.48" stroke="#4a4a4a" stroke-width="0.9"/>
<rect x="283.7" y="342.18" width="3.6" height="2.32" fill="#66A8DE"/>
<line x1="285.5" y1="342.18" x2="285.5" y2="338.14" stroke="#4a4a4a" stroke-width="0.85"/>
<line x1="284.3" y1="338.14" x2="286.7" y2="338.14" stroke="#4a4a4a" stroke-width="0.9"/>
<rect x="287.3" y="343.21" width="3.6" height="1.29" fill="#C9C8CD"/>
<line x1="289.1" y1="343.21" x2="289.1" y2="340.8" stroke="#4a4a4a" stroke-width="0.85"/>
<line x1="287.9" y1="340.8" x2="290.3" y2="340.8" stroke="#4a4a4a" stroke-width="0.9"/>
<line x1="216.5" y1="255.5" x2="216.5" y2="345" stroke="#151515" stroke-width="1"/>
<line x1="213.1" y1="344.5" x2="216.5" y2="344.5" stroke="#1a1a1a" stroke-width="1.05"/>
<text class="r" x="210.3" y="346.85" font-size="6.6" text-anchor="end" fill="#444">0</text>
<line x1="213.1" y1="327.3" x2="216.5" y2="327.3" stroke="#1a1a1a" stroke-width="1.05"/>
<text class="r" x="210.3" y="329.65" font-size="6.6" text-anchor="end" fill="#444">20</text>
<line x1="213.1" y1="310.1" x2="216.5" y2="310.1" stroke="#1a1a1a" stroke-width="1.05"/>
<text class="r" x="210.3" y="312.45" font-size="6.6" text-anchor="end" fill="#444">40</text>
<line x1="213.1" y1="292.9" x2="216.5" y2="292.9" stroke="#1a1a1a" stroke-width="1.05"/>
<text class="r" x="210.3" y="295.25" font-size="6.6" text-anchor="end" fill="#444">60</text>
<line x1="213.1" y1="275.7" x2="216.5" y2="275.7" stroke="#1a1a1a" stroke-width="1.05"/>
<text class="r" x="210.3" y="278.05" font-size="6.6" text-anchor="end" fill="#444">80</text>
<line x1="213.1" y1="258.5" x2="216.5" y2="258.5" stroke="#1a1a1a" stroke-width="1.05"/>
<text class="r" x="210.3" y="260.85" font-size="6.6" text-anchor="end" fill="#444">100</text>
<line x1="213.1" y1="344.5" x2="303.3" y2="344.5" stroke="#151515" stroke-width="1"/>
<line x1="309.5" y1="344.5" x2="346.6" y2="344.5" stroke="#151515" stroke-width="1"/>
<line x1="304" y1="347.2" x2="306.4" y2="341.8" stroke="#555" stroke-width="0.8"/>
<line x1="306.4" y1="347.2" x2="308.8" y2="341.8" stroke="#555" stroke-width="0.8"/>
<line x1="227.7" y1="344.5" x2="227.7" y2="347.7" stroke="#222" stroke-width="1"/>
<text class="r" x="227.7" y="356.8" font-size="6.6" text-anchor="middle" fill="#444">0-5</text>
<line x1="253.7" y1="344.5" x2="253.7" y2="347.7" stroke="#222" stroke-width="1"/>
<text class="r" x="253.7" y="356.8" font-size="6.6" text-anchor="middle" fill="#444">6-10</text>
<line x1="280" y1="344.5" x2="280" y2="347.7" stroke="#222" stroke-width="1"/>
<text class="r" x="280" y="356.8" font-size="6.6" text-anchor="middle" fill="#444">11-15</text>
<line x1="332.3" y1="344.5" x2="332.3" y2="347.7" stroke="#222" stroke-width="1"/>
<text class="r" x="332.3" y="356.8" font-size="6.6" text-anchor="middle" fill="#444">91 +</text>
<path d="M218.8 261.8V258.5H222.9V261.8" fill="none" stroke="#7a7a7a" stroke-width="1"/>
<path d="M226 261.8V258.5H230.1V261.8" fill="none" stroke="#7a7a7a" stroke-width="1"/>
<path d="M233.2 261.8V258.5H237.3V261.8" fill="none" stroke="#7a7a7a" stroke-width="1"/>
<text x="228.1" y="254.1" font-size="5" text-anchor="middle" fill="#3a3a3a">ns</text>
<text class="r" x="255.3" y="250.5" font-size="8" fill="#222" textLength="52.8" lengthAdjust="spacingAndGlyphs">Cxcl12 stromal</text>
<text x="191.5" y="237.4" font-size="12" font-weight="bold" fill="#000">F</text>
<rect x="383.2" y="281.89" width="3.6" height="62.61" fill="#DC8C1E"/>
<line x1="385" y1="281.89" x2="385" y2="272.78" stroke="#4a4a4a" stroke-width="0.85"/>
<line x1="383.8" y1="272.78" x2="386.2" y2="272.78" stroke="#4a4a4a" stroke-width="0.9"/>
<rect x="386.8" y="284.3" width="3.6" height="60.2" fill="#C9C8CD"/>
<line x1="388.6" y1="284.3" x2="388.6" y2="273.12" stroke="#4a4a4a" stroke-width="0.85"/>
<line x1="387.4" y1="273.12" x2="389.8" y2="273.12" stroke="#4a4a4a" stroke-width="0.9"/>
<rect x="390.4" y="286.97" width="3.6" height="57.53" fill="#4F1E5E"/>
<line x1="392.2" y1="286.97" x2="392.2" y2="280.17" stroke="#4a4a4a" stroke-width="0.85"/>
<line x1="391" y1="280.17" x2="393.4" y2="280.17" stroke="#4a4a4a" stroke-width="0.9"/>
<rect x="394" y="288.77" width="3.6" height="55.73" fill="#C9C8CD"/>
<line x1="395.8" y1="288.77" x2="395.8" y2="284.99" stroke="#4a4a4a" stroke-width="0.85"/>
<line x1="394.6" y1="284.99" x2="397" y2="284.99" stroke="#4a4a4a" stroke-width="0.9"/>
<rect x="397.6" y="289.72" width="3.6" height="54.78" fill="#66A8DE"/>
<line x1="399.4" y1="289.72" x2="399.4" y2="282.24" stroke="#4a4a4a" stroke-width="0.85"/>
<line x1="398.2" y1="282.24" x2="400.6" y2="282.24" stroke="#4a4a4a" stroke-width="0.9"/>
<rect x="401.2" y="296" width="3.6" height="48.5" fill="#C9C8CD"/>
<line x1="403" y1="296" x2="403" y2="284.21" stroke="#4a4a4a" stroke-width="0.85"/>
<line x1="401.8" y1="284.21" x2="404.2" y2="284.21" stroke="#4a4a4a" stroke-width="0.9"/>
<rect x="408.8" y="332.98" width="3.6" height="11.52" fill="#DC8C1E"/>
<line x1="410.6" y1="332.98" x2="410.6" y2="328.42" stroke="#4a4a4a" stroke-width="0.85"/>
<line x1="409.4" y1="328.42" x2="411.8" y2="328.42" stroke="#4a4a4a" stroke-width="0.9"/>
<rect x="412.4" y="333.32" width="3.6" height="11.18" fill="#C9C8CD"/>
<line x1="414.2" y1="333.32" x2="414.2" y2="328.76" stroke="#4a4a4a" stroke-width="0.85"/>
<line x1="413" y1="328.76" x2="415.4" y2="328.76" stroke="#4a4a4a" stroke-width="0.9"/>
<rect x="416" y="330.14" width="3.6" height="14.36" fill="#4F1E5E"/>
<line x1="417.8" y1="330.14" x2="417.8" y2="325.58" stroke="#4a4a4a" stroke-width="0.85"/>
<line x1="416.6" y1="325.58" x2="419" y2="325.58" stroke="#4a4a4a" stroke-width="0.9"/>
<rect x="419.6" y="329.54" width="3.6" height="14.96" fill="#C9C8CD"/>
<line x1="421.4" y1="329.54" x2="421.4" y2="325.24" stroke="#4a4a4a" stroke-width="0.85"/>
<line x1="420.2" y1="325.24" x2="422.6" y2="325.24" stroke="#4a4a4a" stroke-width="0.9"/>
<rect x="423.2" y="332.2" width="3.6" height="12.3" fill="#66A8DE"/>
<line x1="425" y1="332.2" x2="425" y2="327.3" stroke="#4a4a4a" stroke-width="0.85"/>
<line x1="423.8" y1="327.3" x2="426.2" y2="327.3" stroke="#4a4a4a" stroke-width="0.9"/>
<rect x="426.8" y="329.88" width="3.6" height="14.62" fill="#C9C8CD"/>
<line x1="428.6" y1="329.88" x2="428.6" y2="325.58" stroke="#4a4a4a" stroke-width="0.85"/>
<line x1="427.4" y1="325.58" x2="429.8" y2="325.58" stroke="#4a4a4a" stroke-width="0.9"/>
<rect x="435.1" y="339.6" width="3.6" height="4.9" fill="#DC8C1E"/>
<line x1="436.9" y1="339.6" x2="436.9" y2="335.64" stroke="#4a4a4a" stroke-width="0.85"/>
<line x1="435.7" y1="335.64" x2="438.1" y2="335.64" stroke="#4a4a4a" stroke-width="0.9"/>
<rect x="438.7" y="337.02" width="3.6" height="7.48" fill="#C9C8CD"/>
<line x1="440.5" y1="337.02" x2="440.5" y2="333.58" stroke="#4a4a4a" stroke-width="0.85"/>
<line x1="439.3" y1="333.58" x2="441.7" y2="333.58" stroke="#4a4a4a" stroke-width="0.9"/>
<rect x="442.3" y="336.16" width="3.6" height="8.34" fill="#4F1E5E"/>
<line x1="444.1" y1="336.16" x2="444.1" y2="332.46" stroke="#4a4a4a" stroke-width="0.85"/>
<line x1="442.9" y1="332.46" x2="445.3" y2="332.46" stroke="#4a4a4a" stroke-width="0.9"/>
<rect x="445.9" y="334.18" width="3.6" height="10.32" fill="#C9C8CD"/>
<line x1="447.7" y1="334.18" x2="447.7" y2="332.98" stroke="#4a4a4a" stroke-width="0.85"/>
<line x1="446.5" y1="332.98" x2="448.9" y2="332.98" stroke="#4a4a4a" stroke-width="0.9"/>
<rect x="449.5" y="337.02" width="3.6" height="7.48" fill="#66A8DE"/>
<line x1="451.3" y1="337.02" x2="451.3" y2="332.98" stroke="#4a4a4a" stroke-width="0.85"/>
<line x1="450.1" y1="332.98" x2="452.5" y2="332.98" stroke="#4a4a4a" stroke-width="0.9"/>
<rect x="453.1" y="335.64" width="3.6" height="8.86" fill="#C9C8CD"/>
<line x1="454.9" y1="335.64" x2="454.9" y2="332.46" stroke="#4a4a4a" stroke-width="0.85"/>
<line x1="453.7" y1="332.46" x2="456.1" y2="332.46" stroke="#4a4a4a" stroke-width="0.9"/>
<line x1="382.7" y1="255.5" x2="382.7" y2="345" stroke="#151515" stroke-width="1"/>
<line x1="379.3" y1="344.5" x2="382.7" y2="344.5" stroke="#1a1a1a" stroke-width="1.05"/>
<text class="r" x="376.5" y="346.85" font-size="6.6" text-anchor="end" fill="#444">0</text>
<line x1="379.3" y1="327.3" x2="382.7" y2="327.3" stroke="#1a1a1a" stroke-width="1.05"/>
<text class="r" x="376.5" y="329.65" font-size="6.6" text-anchor="end" fill="#444">20</text>
<line x1="379.3" y1="310.1" x2="382.7" y2="310.1" stroke="#1a1a1a" stroke-width="1.05"/>
<text class="r" x="376.5" y="312.45" font-size="6.6" text-anchor="end" fill="#444">40</text>
<line x1="379.3" y1="292.9" x2="382.7" y2="292.9" stroke="#1a1a1a" stroke-width="1.05"/>
<text class="r" x="376.5" y="295.25" font-size="6.6" text-anchor="end" fill="#444">60</text>
<line x1="379.3" y1="275.7" x2="382.7" y2="275.7" stroke="#1a1a1a" stroke-width="1.05"/>
<text class="r" x="376.5" y="278.05" font-size="6.6" text-anchor="end" fill="#444">80</text>
<line x1="379.3" y1="258.5" x2="382.7" y2="258.5" stroke="#1a1a1a" stroke-width="1.05"/>
<text class="r" x="376.5" y="260.85" font-size="6.6" text-anchor="end" fill="#444">100</text>
<line x1="379.3" y1="344.5" x2="469" y2="344.5" stroke="#151515" stroke-width="1"/>
<line x1="475.2" y1="344.5" x2="512.3" y2="344.5" stroke="#151515" stroke-width="1"/>
<line x1="469.7" y1="347.2" x2="472.1" y2="341.8" stroke="#555" stroke-width="0.8"/>
<line x1="472.1" y1="347.2" x2="474.5" y2="341.8" stroke="#555" stroke-width="0.8"/>
<line x1="393.9" y1="344.5" x2="393.9" y2="347.7" stroke="#222" stroke-width="1"/>
<text class="r" x="393.9" y="356.8" font-size="6.6" text-anchor="middle" fill="#444">0-5</text>
<line x1="419.9" y1="344.5" x2="419.9" y2="347.7" stroke="#222" stroke-width="1"/>
<text class="r" x="419.9" y="356.8" font-size="6.6" text-anchor="middle" fill="#444">6-10</text>
<line x1="446.2" y1="344.5" x2="446.2" y2="347.7" stroke="#222" stroke-width="1"/>
<text class="r" x="446.2" y="356.8" font-size="6.6" text-anchor="middle" fill="#444">11-15</text>
<line x1="498.5" y1="344.5" x2="498.5" y2="347.7" stroke="#222" stroke-width="1"/>
<text class="r" x="498.5" y="356.8" font-size="6.6" text-anchor="middle" fill="#444">91 +</text>
<path d="M385.4 269.8V266.4H389.5V269.8" fill="none" stroke="#7a7a7a" stroke-width="1"/>
<path d="M392.6 269.8V266.4H396.7V269.8" fill="none" stroke="#7a7a7a" stroke-width="1"/>
<path d="M399.8 269.8V266.4H403.9V269.8" fill="none" stroke="#7a7a7a" stroke-width="1"/>
<text x="394.8" y="261.8" font-size="5" text-anchor="middle" fill="#3a3a3a">ns</text>
<text class="r" x="407.7" y="250.4" font-size="8" fill="#222" textLength="80.4" lengthAdjust="spacingAndGlyphs">Laminin entire vascular</text>
<text x="356" y="237.4" font-size="12" font-weight="bold" fill="#000">G</text>
<rect x="51.5" y="488.53" width="3.6" height="3.17" fill="#DC8C1E"/>
<line x1="53.3" y1="488.53" x2="53.3" y2="485.02" stroke="#4a4a4a" stroke-width="0.85"/>
<line x1="52.1" y1="485.02" x2="54.5" y2="485.02" stroke="#4a4a4a" stroke-width="0.9"/>
<rect x="55.1" y="483.9" width="3.6" height="7.8" fill="#C9C8CD"/>
<line x1="56.9" y1="483.9" x2="56.9" y2="480.39" stroke="#4a4a4a" stroke-width="0.85"/>
<line x1="55.7" y1="480.39" x2="58.1" y2="480.39" stroke="#4a4a4a" stroke-width="0.9"/>
<rect x="58.7" y="482.36" width="3.6" height="9.34" fill="#4F1E5E"/>
<line x1="60.5" y1="482.36" x2="60.5" y2="480.39" stroke="#4a4a4a" stroke-width="0.85"/>
<line x1="59.3" y1="480.39" x2="61.7" y2="480.39" stroke="#4a4a4a" stroke-width="0.9"/>
<rect x="62.3" y="480.39" width="3.6" height="11.31" fill="#C9C8CD"/>
<line x1="64.1" y1="480.39" x2="64.1" y2="477.99" stroke="#4a4a4a" stroke-width="0.85"/>
<line x1="62.9" y1="477.99" x2="65.3" y2="477.99" stroke="#4a4a4a" stroke-width="0.9"/>
<rect x="65.9" y="491.19" width="3.6" height="0.51" fill="#66A8DE"/>
<line x1="67.7" y1="491.19" x2="67.7" y2="488.01" stroke="#4a4a4a" stroke-width="0.85"/>
<line x1="66.5" y1="488.01" x2="68.9" y2="488.01" stroke="#4a4a4a" stroke-width="0.9"/>
<rect x="69.5" y="486.99" width="3.6" height="4.71" fill="#C9C8CD"/>
<line x1="71.3" y1="486.99" x2="71.3" y2="483.9" stroke="#4a4a4a" stroke-width="0.85"/>
<line x1="70.1" y1="483.9" x2="72.5" y2="483.9" stroke="#4a4a4a" stroke-width="0.9"/>
<rect x="77.5" y="490.67" width="3.6" height="1.03" fill="#DC8C1E"/>
<line x1="79.3" y1="490.67" x2="79.3" y2="488.01" stroke="#4a4a4a" stroke-width="0.85"/>
<line x1="78.1" y1="488.01" x2="80.5" y2="488.01" stroke="#4a4a4a" stroke-width="0.9"/>
<rect x="81.1" y="487.59" width="3.6" height="4.11" fill="#C9C8CD"/>
<line x1="82.9" y1="487.59" x2="82.9" y2="485.79" stroke="#4a4a4a" stroke-width="0.85"/>
<line x1="81.7" y1="485.79" x2="84.1" y2="485.79" stroke="#4a4a4a" stroke-width="0.9"/>
<rect x="84.7" y="486.99" width="3.6" height="4.71" fill="#4F1E5E"/>
<line x1="86.5" y1="486.99" x2="86.5" y2="484.5" stroke="#4a4a4a" stroke-width="0.85"/>
<line x1="85.3" y1="484.5" x2="87.7" y2="484.5" stroke="#4a4a4a" stroke-width="0.9"/>
<rect x="88.3" y="485.79" width="3.6" height="5.91" fill="#C9C8CD"/>
<line x1="90.1" y1="485.79" x2="90.1" y2="483.9" stroke="#4a4a4a" stroke-width="0.85"/>
<line x1="88.9" y1="483.9" x2="91.3" y2="483.9" stroke="#4a4a4a" stroke-width="0.9"/>
<rect x="91.9" y="490.67" width="3.6" height="1.03" fill="#66A8DE"/>
<line x1="93.7" y1="490.67" x2="93.7" y2="487.59" stroke="#4a4a4a" stroke-width="0.85"/>
<line x1="92.5" y1="487.59" x2="94.9" y2="487.59" stroke="#4a4a4a" stroke-width="0.9"/>
<rect x="95.5" y="489.56" width="3.6" height="2.14" fill="#C9C8CD"/>
<line x1="97.3" y1="489.56" x2="97.3" y2="488.01" stroke="#4a4a4a" stroke-width="0.85"/>
<line x1="96.1" y1="488.01" x2="98.5" y2="488.01" stroke="#4a4a4a" stroke-width="0.9"/>
<rect x="103.8" y="487.59" width="3.6" height="4.11" fill="#DC8C1E"/>
<line x1="105.6" y1="487.59" x2="105.6" y2="484.16" stroke="#4a4a4a" stroke-width="0.85"/>
<line x1="104.4" y1="484.16" x2="106.8" y2="484.16" stroke="#4a4a4a" stroke-width="0.9"/>
<rect x="107.4" y="488.01" width="3.6" height="3.69" fill="#C9C8CD"/>
<line x1="109.2" y1="488.01" x2="109.2" y2="485.53" stroke="#4a4a4a" stroke-width="0.85"/>
<line x1="108" y1="485.53" x2="110.4" y2="485.53" stroke="#4a4a4a" stroke-width="0.9"/>
<rect x="111" y="486.56" width="3.6" height="5.14" fill="#4F1E5E"/>
<line x1="112.8" y1="486.56" x2="112.8" y2="484.5" stroke="#4a4a4a" stroke-width="0.85"/>
<line x1="111.6" y1="484.5" x2="114" y2="484.5" stroke="#4a4a4a" stroke-width="0.9"/>
<rect x="114.6" y="487.33" width="3.6" height="4.37" fill="#C9C8CD"/>
<line x1="116.4" y1="487.33" x2="116.4" y2="485.53" stroke="#4a4a4a" stroke-width="0.85"/>
<line x1="115.2" y1="485.53" x2="117.6" y2="485.53" stroke="#4a4a4a" stroke-width="0.9"/>
<rect x="118.2" y="490.67" width="3.6" height="1.03" fill="#66A8DE"/>
<line x1="120" y1="490.67" x2="120" y2="488.53" stroke="#4a4a4a" stroke-width="0.85"/>
<line x1="118.8" y1="488.53" x2="121.2" y2="488.53" stroke="#4a4a4a" stroke-width="0.9"/>
<rect x="121.8" y="488.79" width="3.6" height="2.91" fill="#C9C8CD"/>
<line x1="123.6" y1="488.79" x2="123.6" y2="487.33" stroke="#4a4a4a" stroke-width="0.85"/>
<line x1="122.4" y1="487.33" x2="124.8" y2="487.33" stroke="#4a4a4a" stroke-width="0.9"/>
<rect x="156.15" y="472.25" width="3.6" height="19.45" fill="#DC8C1E"/>
<line x1="157.95" y1="472.25" x2="157.95" y2="456.22" stroke="#4a4a4a" stroke-width="0.85"/>
<line x1="156.75" y1="456.22" x2="159.15" y2="456.22" stroke="#4a4a4a" stroke-width="0.9"/>
<rect x="159.75" y="474.39" width="3.6" height="17.31" fill="#C9C8CD"/>
<line x1="161.55" y1="474.39" x2="161.55" y2="465.13" stroke="#4a4a4a" stroke-width="0.85"/>
<line x1="160.35" y1="465.13" x2="162.75" y2="465.13" stroke="#4a4a4a" stroke-width="0.9"/>
<rect x="163.35" y="480.99" width="3.6" height="10.71" fill="#4F1E5E"/>
<line x1="165.15" y1="480.99" x2="165.15" y2="475.25" stroke="#4a4a4a" stroke-width="0.85"/>
<line x1="163.95" y1="475.25" x2="166.35" y2="475.25" stroke="#4a4a4a" stroke-width="0.9"/>
<rect x="166.95" y="478.67" width="3.6" height="13.03" fill="#C9C8CD"/>
<line x1="168.75" y1="478.67" x2="168.75" y2="474.39" stroke="#4a4a4a" stroke-width="0.85"/>
<line x1="167.55" y1="474.39" x2="169.95" y2="474.39" stroke="#4a4a4a" stroke-width="0.9"/>
<rect x="170.55" y="472.85" width="3.6" height="18.85" fill="#66A8DE"/>
<line x1="172.35" y1="472.85" x2="172.35" y2="466.33" stroke="#4a4a4a" stroke-width="0.85"/>
<line x1="171.15" y1="466.33" x2="173.55" y2="466.33" stroke="#4a4a4a" stroke-width="0.9"/>
<rect x="174.15" y="470.36" width="3.6" height="21.34" fill="#C9C8CD"/>
<line x1="175.95" y1="470.36" x2="175.95" y2="466.16" stroke="#4a4a4a" stroke-width="0.85"/>
<line x1="174.75" y1="466.16" x2="177.15" y2="466.16" stroke="#4a4a4a" stroke-width="0.9"/>
<line x1="51.4" y1="403" x2="51.4" y2="492.2" stroke="#151515" stroke-width="1"/>
<line x1="48" y1="491.7" x2="51.4" y2="491.7" stroke="#1a1a1a" stroke-width="1.05"/>
<text class="r" x="45.2" y="494.05" font-size="6.6" text-anchor="end" fill="#444">0</text>
<line x1="48" y1="474.56" x2="51.4" y2="474.56" stroke="#1a1a1a" stroke-width="1.05"/>
<text class="r" x="45.2" y="476.91" font-size="6.6" text-anchor="end" fill="#444">20</text>
<line x1="48" y1="457.42" x2="51.4" y2="457.42" stroke="#1a1a1a" stroke-width="1.05"/>
<text class="r" x="45.2" y="459.77" font-size="6.6" text-anchor="end" fill="#444">40</text>
<line x1="48" y1="440.28" x2="51.4" y2="440.28" stroke="#1a1a1a" stroke-width="1.05"/>
<text class="r" x="45.2" y="442.63" font-size="6.6" text-anchor="end" fill="#444">60</text>
<line x1="48" y1="423.14" x2="51.4" y2="423.14" stroke="#1a1a1a" stroke-width="1.05"/>
<text class="r" x="45.2" y="425.49" font-size="6.6" text-anchor="end" fill="#444">80</text>
<line x1="48" y1="406" x2="51.4" y2="406" stroke="#1a1a1a" stroke-width="1.05"/>
<text class="r" x="45.2" y="408.35" font-size="6.6" text-anchor="end" fill="#444">100</text>
<line x1="48" y1="491.7" x2="137.7" y2="491.7" stroke="#151515" stroke-width="1"/>
<line x1="143.9" y1="491.7" x2="181" y2="491.7" stroke="#151515" stroke-width="1"/>
<line x1="138.4" y1="494.4" x2="140.8" y2="489" stroke="#555" stroke-width="0.8"/>
<line x1="140.8" y1="494.4" x2="143.2" y2="489" stroke="#555" stroke-width="0.8"/>
<line x1="62.6" y1="491.7" x2="62.6" y2="494.9" stroke="#222" stroke-width="1"/>
<text class="r" x="62.6" y="504" font-size="6.6" text-anchor="middle" fill="#444">0-5</text>
<line x1="88.6" y1="491.7" x2="88.6" y2="494.9" stroke="#222" stroke-width="1"/>
<text class="r" x="88.6" y="504" font-size="6.6" text-anchor="middle" fill="#444">6-10</text>
<line x1="114.9" y1="491.7" x2="114.9" y2="494.9" stroke="#222" stroke-width="1"/>
<text class="r" x="114.9" y="504" font-size="6.6" text-anchor="middle" fill="#444">11-15</text>
<line x1="167.2" y1="491.7" x2="167.2" y2="494.9" stroke="#222" stroke-width="1"/>
<text class="r" x="167.2" y="504" font-size="6.6" text-anchor="middle" fill="#444">91 +</text>
<path d="M53.3 476.5V470.1H57.4V476.5" fill="none" stroke="#7a7a7a" stroke-width="1"/>
<path d="M60.5 476.5V470.1H64.6V476.5" fill="none" stroke="#7a7a7a" stroke-width="1"/>
<path d="M67.7 476.5V470.1H71.8V476.5" fill="none" stroke="#7a7a7a" stroke-width="1"/>
<text x="63" y="465.8" font-size="5" text-anchor="middle" fill="#3a3a3a">ns</text>
<text class="r" x="90.6" y="397.9" font-size="8" fill="#222" textLength="51.3" lengthAdjust="spacingAndGlyphs">Sca1 arteriolar</text>
<text x="25.3" y="385" font-size="12" font-weight="bold" fill="#000">H</text>
<rect x="216.6" y="491.48" width="3.6" height="0.42" fill="#DC8C1E"/>
<line x1="218.4" y1="491.48" x2="218.4" y2="491.06" stroke="#4a4a4a" stroke-width="0.85"/>
<line x1="217.2" y1="491.06" x2="219.6" y2="491.06" stroke="#4a4a4a" stroke-width="0.9"/>
<rect x="220.2" y="491.06" width="3.6" height="0.84" fill="#C9C8CD"/>
<line x1="222" y1="491.06" x2="222" y2="490.21" stroke="#4a4a4a" stroke-width="0.85"/>
<line x1="220.8" y1="490.21" x2="223.2" y2="490.21" stroke="#4a4a4a" stroke-width="0.9"/>
<rect x="223.8" y="489.37" width="3.6" height="2.53" fill="#4F1E5E"/>
<line x1="225.6" y1="489.37" x2="225.6" y2="487.68" stroke="#4a4a4a" stroke-width="0.85"/>
<line x1="224.4" y1="487.68" x2="226.8" y2="487.68" stroke="#4a4a4a" stroke-width="0.9"/>
<rect x="227.4" y="491.06" width="3.6" height="0.84" fill="#C9C8CD"/>
<line x1="229.2" y1="491.06" x2="229.2" y2="488.52" stroke="#4a4a4a" stroke-width="0.85"/>
<line x1="228" y1="488.52" x2="230.4" y2="488.52" stroke="#4a4a4a" stroke-width="0.9"/>
<rect x="243" y="491.48" width="3.6" height="0.42" fill="#DC8C1E"/>
<line x1="244.8" y1="491.48" x2="244.8" y2="491.06" stroke="#4a4a4a" stroke-width="0.85"/>
<line x1="243.6" y1="491.06" x2="246" y2="491.06" stroke="#4a4a4a" stroke-width="0.9"/>
<rect x="246.6" y="491.48" width="3.6" height="0.42" fill="#C9C8CD"/>
<line x1="248.4" y1="491.48" x2="248.4" y2="490.63" stroke="#4a4a4a" stroke-width="0.85"/>
<line x1="247.2" y1="490.63" x2="249.6" y2="490.63" stroke="#4a4a4a" stroke-width="0.9"/>
<rect x="250.2" y="490.63" width="3.6" height="1.27" fill="#4F1E5E"/>
<line x1="252" y1="490.63" x2="252" y2="489.79" stroke="#4a4a4a" stroke-width="0.85"/>
<line x1="250.8" y1="489.79" x2="253.2" y2="489.79" stroke="#4a4a4a" stroke-width="0.9"/>
<rect x="253.8" y="491.48" width="3.6" height="0.42" fill="#C9C8CD"/>
<line x1="255.6" y1="491.48" x2="255.6" y2="488.95" stroke="#4a4a4a" stroke-width="0.85"/>
<line x1="254.4" y1="488.95" x2="256.8" y2="488.95" stroke="#4a4a4a" stroke-width="0.9"/>
<rect x="272.9" y="491.48" width="3.6" height="0.42" fill="#C9C8CD"/>
<line x1="274.7" y1="491.48" x2="274.7" y2="491.06" stroke="#4a4a4a" stroke-width="0.85"/>
<line x1="273.5" y1="491.06" x2="275.9" y2="491.06" stroke="#4a4a4a" stroke-width="0.9"/>
<rect x="276.5" y="489.79" width="3.6" height="2.11" fill="#4F1E5E"/>
<line x1="278.3" y1="489.79" x2="278.3" y2="488.52" stroke="#4a4a4a" stroke-width="0.85"/>
<line x1="277.1" y1="488.52" x2="279.5" y2="488.52" stroke="#4a4a4a" stroke-width="0.9"/>
<rect x="280.1" y="491.06" width="3.6" height="0.84" fill="#C9C8CD"/>
<line x1="281.9" y1="491.06" x2="281.9" y2="490.21" stroke="#4a4a4a" stroke-width="0.85"/>
<line x1="280.7" y1="490.21" x2="283.1" y2="490.21" stroke="#4a4a4a" stroke-width="0.9"/>
<line x1="289.1" y1="491.9" x2="289.1" y2="491.06" stroke="#4a4a4a" stroke-width="0.85"/>
<line x1="287.9" y1="491.06" x2="290.3" y2="491.06" stroke="#4a4a4a" stroke-width="0.9"/>
<rect x="321.6" y="430.71" width="3.6" height="61.19" fill="#DC8C1E"/>
<line x1="323.4" y1="430.71" x2="323.4" y2="416.11" stroke="#4a4a4a" stroke-width="0.85"/>
<line x1="322.2" y1="416.11" x2="324.6" y2="416.11" stroke="#4a4a4a" stroke-width="0.9"/>
<rect x="325.2" y="433.66" width="3.6" height="58.24" fill="#C9C8CD"/>
<line x1="327" y1="433.66" x2="327" y2="417.29" stroke="#4a4a4a" stroke-width="0.85"/>
<line x1="325.8" y1="417.29" x2="328.2" y2="417.29" stroke="#4a4a4a" stroke-width="0.9"/>
<rect x="328.8" y="455.86" width="3.6" height="36.04" fill="#4F1E5E"/>
<line x1="330.6" y1="455.86" x2="330.6" y2="445.48" stroke="#4a4a4a" stroke-width="0.85"/>
<line x1="329.4" y1="445.48" x2="331.8" y2="445.48" stroke="#4a4a4a" stroke-width="0.9"/>
<rect x="332.4" y="453.08" width="3.6" height="38.82" fill="#C9C8CD"/>
<line x1="334.2" y1="453.08" x2="334.2" y2="444.3" stroke="#4a4a4a" stroke-width="0.85"/>
<line x1="333" y1="444.3" x2="335.4" y2="444.3" stroke="#4a4a4a" stroke-width="0.9"/>
<rect x="336" y="421.09" width="3.6" height="70.81" fill="#66A8DE"/>
<line x1="337.8" y1="421.09" x2="337.8" y2="408.01" stroke="#4a4a4a" stroke-width="0.85"/>
<line x1="336.6" y1="408.01" x2="339" y2="408.01" stroke="#4a4a4a" stroke-width="0.9"/>
<rect x="339.6" y="422.86" width="3.6" height="69.04" fill="#C9C8CD"/>
<line x1="341.4" y1="422.86" x2="341.4" y2="412.14" stroke="#4a4a4a" stroke-width="0.85"/>
<line x1="340.2" y1="412.14" x2="342.6" y2="412.14" stroke="#4a4a4a" stroke-width="0.9"/>
<line x1="216.5" y1="404.5" x2="216.5" y2="492.4" stroke="#151515" stroke-width="1"/>
<line x1="213.1" y1="491.9" x2="216.5" y2="491.9" stroke="#1a1a1a" stroke-width="1.05"/>
<text class="r" x="210.3" y="494.25" font-size="6.6" text-anchor="end" fill="#444">0</text>
<line x1="213.1" y1="475.02" x2="216.5" y2="475.02" stroke="#1a1a1a" stroke-width="1.05"/>
<text class="r" x="210.3" y="477.37" font-size="6.6" text-anchor="end" fill="#444">20</text>
<line x1="213.1" y1="458.14" x2="216.5" y2="458.14" stroke="#1a1a1a" stroke-width="1.05"/>
<text class="r" x="210.3" y="460.49" font-size="6.6" text-anchor="end" fill="#444">40</text>
<line x1="213.1" y1="441.26" x2="216.5" y2="441.26" stroke="#1a1a1a" stroke-width="1.05"/>
<text class="r" x="210.3" y="443.61" font-size="6.6" text-anchor="end" fill="#444">60</text>
<line x1="213.1" y1="424.38" x2="216.5" y2="424.38" stroke="#1a1a1a" stroke-width="1.05"/>
<text class="r" x="210.3" y="426.73" font-size="6.6" text-anchor="end" fill="#444">80</text>
<line x1="213.1" y1="407.5" x2="216.5" y2="407.5" stroke="#1a1a1a" stroke-width="1.05"/>
<text class="r" x="210.3" y="409.85" font-size="6.6" text-anchor="end" fill="#444">100</text>
<line x1="213.1" y1="491.9" x2="303.3" y2="491.9" stroke="#151515" stroke-width="1"/>
<line x1="309.5" y1="491.9" x2="346.6" y2="491.9" stroke="#151515" stroke-width="1"/>
<line x1="304" y1="494.6" x2="306.4" y2="489.2" stroke="#555" stroke-width="0.8"/>
<line x1="306.4" y1="494.6" x2="308.8" y2="489.2" stroke="#555" stroke-width="0.8"/>
<line x1="227.7" y1="491.9" x2="227.7" y2="495.1" stroke="#222" stroke-width="1"/>
<text class="r" x="227.7" y="504.2" font-size="6.6" text-anchor="middle" fill="#444">0-5</text>
<line x1="253.7" y1="491.9" x2="253.7" y2="495.1" stroke="#222" stroke-width="1"/>
<text class="r" x="253.7" y="504.2" font-size="6.6" text-anchor="middle" fill="#444">6-10</text>
<line x1="280" y1="491.9" x2="280" y2="495.1" stroke="#222" stroke-width="1"/>
<text class="r" x="280" y="504.2" font-size="6.6" text-anchor="middle" fill="#444">11-15</text>
<line x1="332.3" y1="491.9" x2="332.3" y2="495.1" stroke="#222" stroke-width="1"/>
<text class="r" x="332.3" y="504.2" font-size="6.6" text-anchor="middle" fill="#444">91 +</text>
<path d="M218.8 483.5V476.9H222.9V483.5" fill="none" stroke="#7a7a7a" stroke-width="1"/>
<path d="M226 483.5V476.9H230.1V483.5" fill="none" stroke="#7a7a7a" stroke-width="1"/>
<path d="M233.2 483.5V476.9H237.3V483.5" fill="none" stroke="#7a7a7a" stroke-width="1"/>
<text x="228" y="473.1" font-size="5" text-anchor="middle" fill="#3a3a3a">ns</text>
<text class="r" x="247.7" y="398" font-size="8" fill="#222" textLength="68" lengthAdjust="spacingAndGlyphs">NG2 peri-arteriolar</text>
<text x="193.5" y="385" font-size="12" font-weight="bold" fill="#000">I</text>
<rect x="383.1" y="440.73" width="3.6" height="51.17" fill="#DC8C1E"/>
<line x1="384.9" y1="440.73" x2="384.9" y2="431.79" stroke="#4a4a4a" stroke-width="0.85"/>
<line x1="383.7" y1="431.79" x2="386.1" y2="431.79" stroke="#4a4a4a" stroke-width="0.9"/>
<rect x="386.7" y="440.56" width="3.6" height="51.34" fill="#C9C8CD"/>
<line x1="388.5" y1="440.56" x2="388.5" y2="432.3" stroke="#4a4a4a" stroke-width="0.85"/>
<line x1="387.3" y1="432.3" x2="389.7" y2="432.3" stroke="#4a4a4a" stroke-width="0.9"/>
<rect x="390.3" y="439.61" width="3.6" height="52.29" fill="#4F1E5E"/>
<line x1="392.1" y1="439.61" x2="392.1" y2="431.79" stroke="#4a4a4a" stroke-width="0.85"/>
<line x1="390.9" y1="431.79" x2="393.3" y2="431.79" stroke="#4a4a4a" stroke-width="0.9"/>
<rect x="393.9" y="437.2" width="3.6" height="54.7" fill="#C9C8CD"/>
<line x1="395.7" y1="437.2" x2="395.7" y2="430.24" stroke="#4a4a4a" stroke-width="0.85"/>
<line x1="394.5" y1="430.24" x2="396.9" y2="430.24" stroke="#4a4a4a" stroke-width="0.9"/>
<rect x="397.5" y="441.68" width="3.6" height="50.22" fill="#66A8DE"/>
<line x1="399.3" y1="441.68" x2="399.3" y2="433.68" stroke="#4a4a4a" stroke-width="0.85"/>
<line x1="398.1" y1="433.68" x2="400.5" y2="433.68" stroke="#4a4a4a" stroke-width="0.9"/>
<rect x="401.1" y="440.04" width="3.6" height="51.86" fill="#C9C8CD"/>
<line x1="402.9" y1="440.04" x2="402.9" y2="429.29" stroke="#4a4a4a" stroke-width="0.85"/>
<line x1="401.7" y1="429.29" x2="404.1" y2="429.29" stroke="#4a4a4a" stroke-width="0.9"/>
<rect x="408.7" y="476.76" width="3.6" height="15.14" fill="#DC8C1E"/>
<line x1="410.5" y1="476.76" x2="410.5" y2="470.4" stroke="#4a4a4a" stroke-width="0.85"/>
<line x1="409.3" y1="470.4" x2="411.7" y2="470.4" stroke="#4a4a4a" stroke-width="0.9"/>
<rect x="412.3" y="477.45" width="3.6" height="14.45" fill="#C9C8CD"/>
<line x1="414.1" y1="477.45" x2="414.1" y2="473.24" stroke="#4a4a4a" stroke-width="0.85"/>
<line x1="412.9" y1="473.24" x2="415.3" y2="473.24" stroke="#4a4a4a" stroke-width="0.9"/>
<rect x="415.9" y="474.1" width="3.6" height="17.8" fill="#4F1E5E"/>
<line x1="417.7" y1="474.1" x2="417.7" y2="471.43" stroke="#4a4a4a" stroke-width="0.85"/>
<line x1="416.5" y1="471.43" x2="418.9" y2="471.43" stroke="#4a4a4a" stroke-width="0.9"/>
<rect x="419.5" y="478.31" width="3.6" height="13.59" fill="#C9C8CD"/>
<line x1="421.3" y1="478.31" x2="421.3" y2="475.99" stroke="#4a4a4a" stroke-width="0.85"/>
<line x1="420.1" y1="475.99" x2="422.5" y2="475.99" stroke="#4a4a4a" stroke-width="0.9"/>
<rect x="423.1" y="475.13" width="3.6" height="16.77" fill="#66A8DE"/>
<line x1="424.9" y1="475.13" x2="424.9" y2="468.51" stroke="#4a4a4a" stroke-width="0.85"/>
<line x1="423.7" y1="468.51" x2="426.1" y2="468.51" stroke="#4a4a4a" stroke-width="0.9"/>
<rect x="426.7" y="478.31" width="3.6" height="13.59" fill="#C9C8CD"/>
<line x1="428.5" y1="478.31" x2="428.5" y2="473.24" stroke="#4a4a4a" stroke-width="0.85"/>
<line x1="427.3" y1="473.24" x2="429.7" y2="473.24" stroke="#4a4a4a" stroke-width="0.9"/>
<rect x="435" y="482.01" width="3.6" height="9.89" fill="#DC8C1E"/>
<line x1="436.8" y1="482.01" x2="436.8" y2="477.45" stroke="#4a4a4a" stroke-width="0.85"/>
<line x1="435.6" y1="477.45" x2="438" y2="477.45" stroke="#4a4a4a" stroke-width="0.9"/>
<rect x="438.6" y="482.01" width="3.6" height="9.89" fill="#C9C8CD"/>
<line x1="440.4" y1="482.01" x2="440.4" y2="478.83" stroke="#4a4a4a" stroke-width="0.85"/>
<line x1="439.2" y1="478.83" x2="441.6" y2="478.83" stroke="#4a4a4a" stroke-width="0.9"/>
<rect x="442.2" y="482.7" width="3.6" height="9.2" fill="#4F1E5E"/>
<line x1="444" y1="482.7" x2="444" y2="479.34" stroke="#4a4a4a" stroke-width="0.85"/>
<line x1="442.8" y1="479.34" x2="445.2" y2="479.34" stroke="#4a4a4a" stroke-width="0.9"/>
<rect x="445.8" y="481.32" width="3.6" height="10.58" fill="#C9C8CD"/>
<line x1="447.6" y1="481.32" x2="447.6" y2="477.02" stroke="#4a4a4a" stroke-width="0.85"/>
<line x1="446.4" y1="477.02" x2="448.8" y2="477.02" stroke="#4a4a4a" stroke-width="0.9"/>
<rect x="449.4" y="483.39" width="3.6" height="8.51" fill="#66A8DE"/>
<line x1="451.2" y1="483.39" x2="451.2" y2="480.46" stroke="#4a4a4a" stroke-width="0.85"/>
<line x1="450" y1="480.46" x2="452.4" y2="480.46" stroke="#4a4a4a" stroke-width="0.9"/>
<rect x="453" y="483.13" width="3.6" height="8.77" fill="#C9C8CD"/>
<line x1="454.8" y1="483.13" x2="454.8" y2="479.34" stroke="#4a4a4a" stroke-width="0.85"/>
<line x1="453.6" y1="479.34" x2="456" y2="479.34" stroke="#4a4a4a" stroke-width="0.9"/>
<line x1="382.6" y1="402.9" x2="382.6" y2="492.4" stroke="#151515" stroke-width="1"/>
<line x1="379.2" y1="491.9" x2="382.6" y2="491.9" stroke="#1a1a1a" stroke-width="1.05"/>
<text class="r" x="376.4" y="494.25" font-size="6.6" text-anchor="end" fill="#444">0</text>
<line x1="379.2" y1="474.7" x2="382.6" y2="474.7" stroke="#1a1a1a" stroke-width="1.05"/>
<text class="r" x="376.4" y="477.05" font-size="6.6" text-anchor="end" fill="#444">20</text>
<line x1="379.2" y1="457.5" x2="382.6" y2="457.5" stroke="#1a1a1a" stroke-width="1.05"/>
<text class="r" x="376.4" y="459.85" font-size="6.6" text-anchor="end" fill="#444">40</text>
<line x1="379.2" y1="440.3" x2="382.6" y2="440.3" stroke="#1a1a1a" stroke-width="1.05"/>
<text class="r" x="376.4" y="442.65" font-size="6.6" text-anchor="end" fill="#444">60</text>
<line x1="379.2" y1="423.1" x2="382.6" y2="423.1" stroke="#1a1a1a" stroke-width="1.05"/>
<text class="r" x="376.4" y="425.45" font-size="6.6" text-anchor="end" fill="#444">80</text>
<line x1="379.2" y1="405.9" x2="382.6" y2="405.9" stroke="#1a1a1a" stroke-width="1.05"/>
<text class="r" x="376.4" y="408.25" font-size="6.6" text-anchor="end" fill="#444">100</text>
<line x1="379.2" y1="491.9" x2="468.9" y2="491.9" stroke="#151515" stroke-width="1"/>
<line x1="475.1" y1="491.9" x2="512.2" y2="491.9" stroke="#151515" stroke-width="1"/>
<line x1="469.6" y1="494.6" x2="472" y2="489.2" stroke="#555" stroke-width="0.8"/>
<line x1="472" y1="494.6" x2="474.4" y2="489.2" stroke="#555" stroke-width="0.8"/>
<line x1="393.8" y1="491.9" x2="393.8" y2="495.1" stroke="#222" stroke-width="1"/>
<text class="r" x="393.8" y="504.2" font-size="6.6" text-anchor="middle" fill="#444">0-5</text>
<line x1="419.8" y1="491.9" x2="419.8" y2="495.1" stroke="#222" stroke-width="1"/>
<text class="r" x="419.8" y="504.2" font-size="6.6" text-anchor="middle" fill="#444">6-10</text>
<line x1="446.1" y1="491.9" x2="446.1" y2="495.1" stroke="#222" stroke-width="1"/>
<text class="r" x="446.1" y="504.2" font-size="6.6" text-anchor="middle" fill="#444">11-15</text>
<line x1="498.4" y1="491.9" x2="498.4" y2="495.1" stroke="#222" stroke-width="1"/>
<text class="r" x="498.4" y="504.2" font-size="6.6" text-anchor="middle" fill="#444">91 +</text>
<path d="M385.3 426.6V419.9H389.4V426.6" fill="none" stroke="#7a7a7a" stroke-width="1"/>
<path d="M392.5 426.6V419.9H396.6V426.6" fill="none" stroke="#7a7a7a" stroke-width="1"/>
<path d="M399.7 426.6V419.9H403.8V426.6" fill="none" stroke="#7a7a7a" stroke-width="1"/>
<text x="395" y="415.7" font-size="5" text-anchor="middle" fill="#3a3a3a">ns</text>
<text class="r" x="416.9" y="397.8" font-size="8" fill="#222" textLength="60.9" lengthAdjust="spacingAndGlyphs">CD105 sinusoidal</text>
<text x="357.4" y="385" font-size="12" font-weight="bold" fill="#000">J</text>
<rect x="80" y="117.1" width="7" height="6.4" fill="#DC8C1E"/>
<text x="90.2" y="122.2" font-size="5.6" fill="#2a2a2a" stroke="#2a2a2a" stroke-width="0.12">HSC<tspan font-size="3.5" dy="-2.2">α-cat</tspan><tspan dy="2.2"> femur</tspan></text>
<rect x="80" y="127" width="7" height="6.4" fill="#C9C8CD"/>
<text x="90.2" y="132.1" font-size="5.6" fill="#2a2a2a" stroke="#2a2a2a" stroke-width="0.12">RD<tspan font-size="3.5" dy="-2.2">α-cat</tspan><tspan dy="2.2"> femur</tspan></text>
<rect x="80" y="141.9" width="7" height="6.4" fill="#4F1E5E"/>
<text x="90.2" y="147" font-size="5.6" fill="#2a2a2a" stroke="#2a2a2a" stroke-width="0.12">HSC<tspan font-size="3.5" dy="-2.2">MFG</tspan><tspan dy="2.2"> femur</tspan></text>
<rect x="80" y="152" width="7" height="6.4" fill="#C9C8CD"/>
<text x="90.2" y="157.1" font-size="5.6" fill="#2a2a2a" stroke="#2a2a2a" stroke-width="0.12">RD<tspan font-size="3.5" dy="-2.2">MFG</tspan><tspan dy="2.2"> femur</tspan></text>
<rect x="80" y="166.9" width="7" height="6.4" fill="#66A8DE"/>
<text x="90.2" y="172" font-size="5.6" fill="#2a2a2a" stroke="#2a2a2a" stroke-width="0.12">HSC<tspan font-size="3.5" dy="-2.2">α-cat</tspan><tspan dy="2.2"> femur</tspan></text>
<rect x="80" y="176.7" width="7" height="6.4" fill="#C9C8CD"/>
<text x="90.2" y="181.8" font-size="5.6" fill="#2a2a2a" stroke="#2a2a2a" stroke-width="0.12">RD<tspan font-size="3.5" dy="-2.2">α-cat</tspan><tspan dy="2.2"> femur</tspan></text>
<line x1="19.35" y1="116" x2="19.35" y2="495.3" stroke="#404040" stroke-width="1.3"/>
<path d="M19.35 109.2L22.9 117.3L19.35 115.6L15.8 117.3Z" fill="#000"/>
<line x1="45.2" y1="512.45" x2="477" y2="512.45" stroke="#404040" stroke-width="1.3"/>
<path d="M482.9 512.45L474.8 508.95L476.5 512.45L474.8 515.95Z" fill="#000"/>
<text x="0" y="0" font-size="8.3" fill="#1a1a1a" stroke="#1a1a1a" stroke-width="0.28" textLength="37.5" lengthAdjust="spacingAndGlyphs" transform="translate(13.6,320.7) rotate(-90)">% percentage</text>
<text x="151" y="522.3" font-size="7.9" fill="#1a1a1a" stroke="#1a1a1a" stroke-width="0.25" textLength="226.5" lengthAdjust="spacingAndGlyphs">Minimum distance from single populations based on markers &amp; morphology (µm)</text>
<rect x="0" y="0" width="520" height="1" fill="#000"/>
<rect x="0" y="0" width="1" height="532" fill="#000"/>
<rect x="518.8" y="0" width="1.2" height="532" fill="#000"/>
<rect x="0" y="530.8" width="520" height="1.2" fill="#000"/>
</svg></div>
</body></html>
